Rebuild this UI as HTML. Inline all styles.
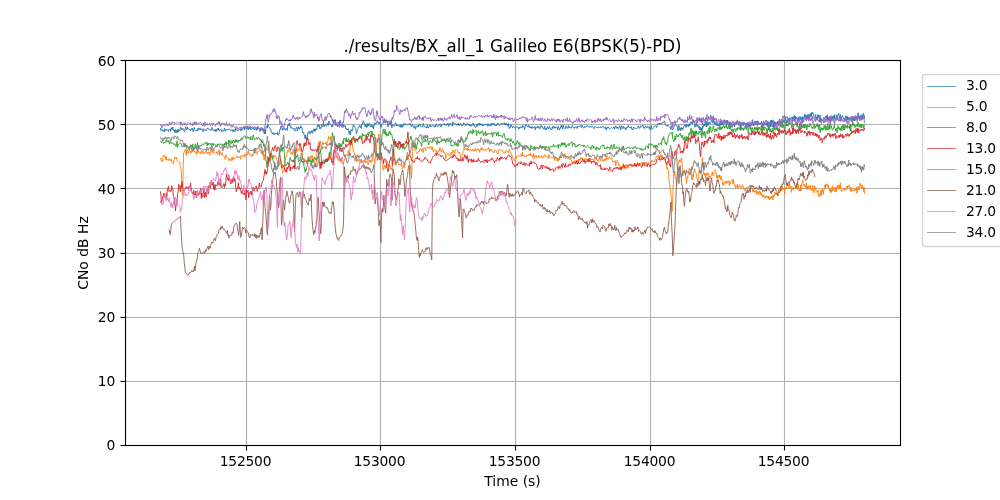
<!DOCTYPE html>
<html lang="en"><head><meta charset="utf-8"><title>./results/BX_all_1 Galileo E6(BPSK(5)-PD)</title>
<style>
html,body{margin:0;padding:0;background:#fff;}
body{width:1000px;height:500px;overflow:hidden;}
svg{display:block;}
text{font-family:"DejaVu Sans","Liberation Sans",sans-serif;fill:#000;}
.n{letter-spacing:-0.25px;}
.t{font-size:13.889px;}
.ti{font-size:16.667px;}
.g{stroke:#b0b0b0;stroke-width:1.111;fill:none;}
.k{stroke:#000;stroke-width:1.111;fill:none;stroke-linecap:butt;}
.d{fill:none;stroke-linejoin:round;stroke-linecap:butt;}
</style></head>
<body>
<svg width="1000" height="500" viewBox="0 0 1000 500">
<rect x="0" y="0" width="1000" height="500" fill="#fff"/>
<g class="g">
<line x1="246.5" y1="60.5" x2="246.5" y2="445.5"/>
<line x1="380.5" y1="60.5" x2="380.5" y2="445.5"/>
<line x1="515.5" y1="60.5" x2="515.5" y2="445.5"/>
<line x1="650.5" y1="60.5" x2="650.5" y2="445.5"/>
<line x1="784.5" y1="60.5" x2="784.5" y2="445.5"/>
<line x1="125.5" y1="445.5" x2="900.5" y2="445.5"/>
<line x1="125.5" y1="381.5" x2="900.5" y2="381.5"/>
<line x1="125.5" y1="317.5" x2="900.5" y2="317.5"/>
<line x1="125.5" y1="253.5" x2="900.5" y2="253.5"/>
<line x1="125.5" y1="188.5" x2="900.5" y2="188.5"/>
<line x1="125.5" y1="124.5" x2="900.5" y2="124.5"/>
<line x1="125.5" y1="60.5" x2="900.5" y2="60.5"/>
</g>
<clipPath id="c"><rect x="125" y="60" width="776" height="386"/></clipPath>
<g class="d" clip-path="url(#c)">
<path transform="translate(160.4,0) scale(0.02692)" stroke="#1f77b4" stroke-width="34.55" d="M0 4757l20 92 20-21 20-16 20 51 20-34 20 0 20 75 20-119 20 18 20 53 20-21 20-31 20 31 20-3 20 50 20-88 20 17 20-9 20 75 20-138 20 62 20 22 20-106 20 87 20 58 20-28 20 103 20-121 20 86 20 24 20-101 20 95 20-117 20 89 20-64 20 24 20-115 20-12 20 90 20-50 20 44 20-32 20 57 20 42 20 4 20-94 20-79 20 85 20 34 20-104 20 72 20 6 20-6 20 17 20 8 20 49 20-83 20 27 20-55 20 68 20 67 20-77 20-76 20 90 20 23 20 13 20-5 20-31 20 38 20-114 20 77 20-17 20-56 20-3 20 74 20-23 20-16 20 40 20 68 20-104 20-10 20 21 20 58 20-31 20 18 20-12 20-69 20-9 20 37 20 6 20-5 20 30 20 3 20 26 20-26 20-99 20 60 20 52 20 6 20 18 20-53 20 0 20 80 20-82 20 46 20-85 20 55 20-66 20 94 20-6 20-25 20-31 20 22 20 78 20-61 20 6 20 18 20 9 20-104 20 91 20 19 20-64 20 21 20 8 20-38 20 12 20 4 20-26 20 28 20 37 20-13 20 5 20-33 20 53 20 30 20-84 20 59 20 24 20-101 20 44 20-54 20 42 20 24 20 3 20-34 20-14 20 21 20-27 20 51 20-70 20 74 20-71 20-42 20-20 20-30 20 137 20-102 20-23 20 7 20 84 20-56 20-60 20 146 20-83 20-25 20 80 20-53 20 73 20-9 20 2 20-41 20 14 20-43 20 83 20-33 20-45 20 18 20 84 20-86 19 53 20-38 19 6 20-41 19 52 19 94 19-20 19-99 19 49 18-66 19 51 18 61 19-81 18 106 18 95 19-174 18 161 18-197 18-82 18 2 18 67 18-166 18 99 18 20 18 15 18 7 18 72 18-3 18 87 18 9 18 73 18-19 18-24 18 63 18-43 18 50 18-2 18-37 18 10 18-27 18 35 18-67 18 114 18-38 18 0 18-97 18-97 18 8 18-120 18-1 18 91 18 69 18-61 18 45 18-15 18-40 18 1 18 68 18-9 18-60 18 4 18 73 18-190 18 23 18-79 18 72 18-105 18 118 18-3 18 88 18-42 18 21 18 16 18-14 18 37 18-29 18 92 18 20 18-61 18-45 18-42 18 11 18 134 18-106 18-51 18 76 18 18 18-65 18 19 18-81 18 50 18-14 18 105 18 121 18-23 18 5 18 99 18 14 18 118 18-142 18 104 18 95 18-67 18-129 18-101 18-5 18-25 18 84 18 16 18-111 18 24 18 22 18-74 18 108 18-34 18-82 18-48 18 87 18-92 18 93 18-84 18-10 18 37 18-131 18-52 18 62 18 4 18-68 18 143 18 15 18-52 18 19 18-140 18 44 18 52 18-22 18-182 18 176 18 5 18-58 18-20 18 18 18 45 18-2 18-106 18 19 18 67 18-160 18 28 18 71 18 19 18-8 18 65 18 53 18-69 18 49 18-149 18 22 18-117 18 49 18-67 18 178 18 44 18-31 18 34 18-19 18-45 18-24 18-51 18 117 18-180 18 28 18 107 18 115 18-105 18 1 18 131 18-113 18 23 18 56 18-41 18 12 18 108 18-20 18 53 18 14 18-38 18-15 18 76 18 121 18-108 18 148 18-60 18-149 18 47 18 16 18-31 18-181 18 25 18-11 18-2 18 69 18 36 18 55 18 132 18-58 18-99 18-23 18-59 18-1 18-44 18-30 18 98 18-19 18 46 18-174 18 8 18-64 18-61 18 46 18 82 18-22 18 129 18-93 18 18 18 94 18-149 18 108 18-71 18 48 18-82 18-26 18 104 18 50 18-57 18-36 18 77 18 27 18-79 18 142 18-133 18 11 18-111 18 33 18 2 18-58 18 40 18-93 18 44 18 11 18 45 18-57 18 86 18 10 18 44 18 63 18-108 18-37 18-35 18 26 18-10 18-73 18-83 18 147 18-61 18 55 18-50 18 27 18-23 18 207 18-115 18 17 18-48 18 29 18-8 18-71 18-43 18 270 18-102 18-5 18 17 18 5 18 38 18-34 18-89 18-8 18 59 18 56 19-38 18 26 19-32 19 23 19 39 19-37 19 69 20-95 19-14 20 115 20-82 20 56 20-106 20-2 20 42 21-65 21 62 20 7 21-6 22-22 21 5 21-23 22 33 22-49 22 0 22 76 22 51 22-81 22-3 22 70 22 63 22-52 22-39 22 131 22-116 22 20 22 8 22-72 22 74 22-71 22-46 22 47 22 43 22 36 22-23 22 22 22-145 22 88 22 43 22 20 22-1 22-23 22 50 22-119 22 113 22-3 22-52 22-53 22 1 22 73 22-36 22 0 22-20 22 7 22 48 22 10 22-65 22 54 22-113 22 54 22 42 22-34 22 4 22-19 22-49 22 100 22 16 22-97 22 20 22-17 22-15 22 24 22-44 22 70 22-43 22 36 22 10 22-77 22 0 22 110 22-33 22-58 22-31 22 76 22-18 22 55 22-166 22 89 22-16 22 13 22-10 22 16 22 42 22-46 22 29 22-51 22 88 22-8 22-51 22-26 22 50 22 37 22-25 22 17 22-102 22 43 22-15 22 42 22 38 22-74 22-20 22 47 22 27 22-47 22 63 22-48 22 64 22 12 22-66 22 10 22-68 22 93 22-14 22 50 22 30 22-4 22-97 22 69 22-99 22-13 22 72 22-84 22 61 22-39 22 57 22-51 22 81 22-68 22 45 22-14 22-34 22 19 22 10 22-35 22-4 22 94 22-85 22-6 22 60 22-50 22 73 22-120 22 71 22-8 22-56 22 56 22-33 22 70 22-22 22 35 22-52 22-55 22 34 22-29 22 80 22-7 22-19 22-46 22 9 22 15 22-29 22 32 22-7 22-51 22 90 22-25 22-53 22 73 22-18 22 65 22-102 22 189 22-40 22 5 22-112 22 56 22 28 22 46 22-69 22 12 22 37 22 36 22-15 22-55 22-2 22 12 22 12 22 71 22-76 22 48 22-50 22-23 22 43 22 10 22-92 22 22 22 37 22 95 22-132 22-34 22-27 22 82 22 4 22-3 22-50 22 92 22-40 22 40 22-45 22 83 22-77 22 43 22-6 22-27 22-21 22 127 22-110 22 20 22 36 22-73 22 51 22-48 22 81 22 11 22-91 22-41 22 65 22-11 22 57 22 36 22-48 22-74 22 143 22-59 22 60 22-87 22-34 22 90 22-36 22-75 22 60 22 49 22 2 22 30 22-120 22 65 22-77 22 8 22 65 22-5 22-56 22 27 22-5 22 82 22-110 22 77 22 59 22-71 22-44 22-72 22 106 22 41 22-148 22 84 22 18 22 35 22-3 22-106 22 75 22 11 22-1 22-90 22 91 22-54 22 14 22 0 22 46 22-68 22-42 22 70 22 36 22 14 22-65 22 18 22-9 22-6 22 62 22-98 22 22 22 11 22-14 22-32 22 36 22 38 22-88 22 67 22 11 22 34 22-67 22 46 22-21 22-41 22 19 22-41 22 32 22 31 22-2 22 9 22-49 22 28 22 20 22-53 22 33 22 26 22 46 22-83 22 10 22 9 22 22 22 18 22-25 22-19 22 17 22 2 22 15 22-34 22 6 22 43 22-63 22 0 22 0 22 41 22 4 22 43 22-81 22 125 22-74 22-2 22-50 22 37 22 42 22 20 22-29 22-35 22 3 22 11 22 22 22-20 22-51 22 91 22-48 22-68 22 47 22 44 22-47 22 61 22-32 22-66 22-14 22 155 22-102 22-53 22 107 22-35 22-54 22 85 22-42 22 22 22 79 22-98 22 22 22-48 22-51 22 60 22 44 22-35 22 10 22-36 22 105 22-13 22 37 22-114 22 26 22 26 22 3 22-7 22 14 22-26 22 7 22-83 22 43 22 46 22-14 22-79 22 29 22 3 22-21 22-40 22 117 22-23 22 39 22-99 22 35 22 23 22 15 22-52 22 47 22 28 22-66 22 110 22 20 22-173 22 116 22-3 22-4 22-36 22-50 22-10 22-2 22 24 22 41 22-87 22-68 22 5 22 38 22-56 22 36 22-28 21 39 22-56 21-13 22 25 21-35 21-47 21 38 20 94 21 33 20 7 20 31 20-39 20-6 20 30 20 15 19 19 19 33 19 54 19-139 19 53 19 116 19-10 18-29 18-49 19-88 18 6 17-12 18-10 18-10 17 23 18 33 17 51 17 119 17-90 17-110 17 165 16 19 17-92 16 74 16 31 16-121 16 44 16-25 16 70 15-84 16-8 15-41 16-39 15-14 15 46 15-48 15 105 15-121 15-8 15 64 15 19 15-52 15 69 15-106 15-3 15 75 15-70 15-71 15-5 15-3 15 69 15 7 15 2 15-55 15-106 15 68 15-4 15 23 15 198 15-83 15 22 15-101 15-20 15 159 15-38 15-26 15 75 15 16 15 23 15-71 15 145 15-101 15 97 15 34 15-111 15 98 15-36 15-125 15 49 15-64 15-58 15-19 15 88 15-57 15-64 15-51 15 211 15-212 15 25 15 125 15 24 15-125 15 53 15-38 15-49 15 78 15-37 15-23 15-30 15-59 15 1 15 93 15 29 15-174 15 111 15 12 15 98 15-126 15 107 15-16 15 63 15-49 15-34 15 109 15-35 15-50 15 85 15 4 15-23 15 44 15-144 15 101 15-126 15-18 15 136 15-92 15 28 15 37 15-62 15-13 15-73 15-27 15 153 15-40 15-57 15-37 15 256 15-248 15 107 15-109 15 141 15 36 15-53 15-71 15 78 15 164 15-209 15 157 15-43 15 13 15 46 15-40 15-18 15-26 15-38 15 19 15 79 15-89 15-80 15 2 15 56 15-33 15-19 15-31 15-22 15 141 15-2 15-118 15-4 15 4 15 268 15-144 15 210 15-271 15 48 15 2 15 15 15-97 15 111 15-91 15 31 15 12 15-9 15 22 15 81 15-127 15-1 15 57 15-62 15-14 15 148 15-80 15 19 15 30 15-86 15 78 15-30 15-49 15-9 15 0 15-134 15 186 15-53 15 98 15-118 15-48 15-7 15 125 15-26 15-108 15 94 15-70 15 134 15-161 15 26 15 40 15 89 15-43 15-20 15-6 15 27 15 9 15-26 15-81 15 235 15-43 15 14 15-58 15 74 15-156 15 32 15 24 15 29 15-58 15-1 15-10 15 72 15-94 15 145 15-187 15 297 15-170 15 42 15-137 15 156 15-227 15 231 15-245 15 108 15 28 15-30 15-124 15 86 15 212 15-238 15 63 15 124 15-167 15 133 15-99 15-6 15 57 15-92 15 112 15-87 15 48 15-28 15-147 15 121 15 79 15-71 15 42 15-59 15-13 15 2 15-4 15 39 15-72 15-45 15 111 15-42 15-12 15-86 15 9 15 120 15-60 15 102 15-42 15-73 15-48 15-28 15 82 15 66 15-126 15 33 15-46 15 12 15-44 15-1 15-19 15 84 15-98 15 106 15-36 15-119 15 107 15 109 15-179 15 38 15-6 15 68 15-6 15 43 15 36 15-149 15 134 15 11 15-9 15-165 15 60 15 78 15-30 15-45 15-33 15 163 15-180 15 70 15 24 15-28 15-88 15-74 15 103 15-36 15 89 15-95 15-29 15 153 15-72 15-95 15 169 15-101 15-72 15 151 15-94 15-37 15-63 15 144 15-170 15 52 15-54 15 10 15 64 15-2 15 160 15-19 15-16 15-38 15-81 15 194 15-93 15 77 15 27 15-199 15 105 15-96 15 41 15 155 15 74 15-259 15 180 15 60 15-116 15 41 15 48 15-30 15-42 15-1 15-55 15 69 15-8 15-73 15 13 15-62 15 85 15-13 15 75 15-181 15 201 15-108 15 77 15-82 15-26 15 165 15-96 15 108 15-215 15 128 15 80 15-58 15-136 15-16 15 10 15 135 15-49 15-128 15 157 15-33 15 37 15 8 15-168 15 34 15 7 15-15 15-36 15-39 15 99 15 26 15 53 15-139 15 115 15 73 15-79 15-14 15-50 15-6 15 124 15 11 15-27 15 66 15-70 15-33 15 34 15 112 15-31 15-172 15 156 15-122 15 6 15 63 15 45 15-85 15 73 15-50 15-22 15 55 15-35 15 3 15 62 15-74 15 29 15 80 15-104 15-6 15 21 15 98 15-197 15 4 15 1 15 20 15 107 15-97 15 71 15-216 15 185 15-82 15 152 15-25 15-44 15-85 15 10 15 18 15 147 15-205 15 141 15-174 15-17 15 71 15-11 12 154"/>
<path transform="translate(160.4,0) scale(0.02692)" stroke="#ff7f0e" stroke-width="33.43" d="M0 5924l20-55 20 136 20-34 20 35 20-232 20 24 20-30 20 67 20-1 20 110 20-141 20 152 20-15 20-6 20 28 20-71 20 60 20 0 20 15 20-63 20 107 20-8 20-15 20 100 20-95 20-89 20-70 20 4 20 67 20-60 20 121 20 23 20 1 20 19 20 31 20-17 20 158 20 49 20 181 20 391 20 464 20-757 20-813 20-31 20-59 20-57 20 31 20 196 20-205 20 141 20-6 20-92 20 68 20-140 20 40 20 75 20 44 20-90 20-39 20 58 20-81 20 68 20-8 20 56 20-28 20 33 20 83 20-204 20 129 20-10 20-58 20 57 20-6 20-11 20 75 20-129 20 55 20 46 20-75 20 27 20 62 20-54 20 7 20-17 20-2 20-16 20 92 20-56 20 45 20-67 20 88 20 41 20-82 20-142 20 68 20 51 20-113 20 128 20 1 20-49 20 28 20 19 20 21 20-18 20-52 20 114 20-29 20-94 20-55 20 210 20-106 20-50 20 101 20 31 20-74 20 99 20 22 20 6 20 52 20 61 20-157 20-14 20 81 20 32 20-22 20 43 20 87 20-15 20-66 20 37 20 50 20-11 20-119 20 112 20-132 20 25 20 66 20-37 20-26 20-14 20 1 20-60 20 20 20 64 20-25 20 25 20-28 20-39 20 106 20-127 20-3 20 0 20 40 20-40 20 4 20-39 20 109 20-106 20-43 20 70 20 8 20-75 20-86 20 102 20 2 20 35 20-30 20 13 20 78 20-57 20-24 20 63 20-67 20-57 20-1 20 32 20-116 20 35 20 48 19 71 20-96 19-38 20 14 19-11 19-75 19 52 19-19 19 155 18-65 19-38 18 157 19-116 18 255 18 38 19-224 18 55 18-326 18 99 18 30 18-32 18-47 18-144 18-125 18 147 18 302 18 69 18 195 18-143 18 42 18-81 18-16 18 147 18-129 18 69 18-7 18-65 18 27 18 14 18 90 18 45 18 135 18-3 18-47 18 125 18-70 18-127 18-16 18 142 18 56 18 63 18 184 18 54 18-69 18-20 18-174 18-132 18-80 18-102 18-67 18 20 18-167 18-55 18 52 18-57 18-112 18 78 18 115 18 21 18 29 18-65 18-8 18 92 18-196 18 7 18 136 18-25 18 106 18-22 18-30 18-174 18 95 18-72 18-52 18 63 18-53 18-7 18-89 18 185 18-60 18 2 18 84 18 15 18 186 18 100 18-54 18-7 18 139 18-85 18 9 18 43 18 43 18-97 18 14 18 90 18-56 18-159 18 108 18 49 18-130 18-55 18-8 18 100 18-100 18 177 18-3 18-16 18 88 18 170 18-152 18 53 18-29 18-284 18-176 18-80 18-108 18-156 18 90 18 104 18 56 18 99 18-119 18 11 18-102 18-155 18 122 18-64 18 29 18-26 18 27 18 8 18-80 18 128 18-47 18-102 18-25 18-150 18 70 18-36 18-22 18 130 18-148 18 330 18 535 18 12 18-58 18-164 18-81 18-78 18 113 18-118 18 188 18 121 18-35 18-56 18 98 18 90 18-14 18-62 18-29 18 140 18-113 18 137 18-148 18 143 18 70 18-44 18-1 18-34 18-68 18-44 18 17 18-133 18-6 18-33 18 23 18 16 18-199 18 163 18 40 18-175 18-186 18-51 18 5 18-180 18-36 18 313 18 74 18 98 18 8 18 88 18-1 18 145 18-122 18 162 18 91 18-113 18 12 18 63 18-19 18-46 18 54 18 17 18-76 18 18 18 95 18-49 18 43 18-45 18-23 18-9 18 86 18-34 18 67 18-89 18 31 18 32 18-37 18 124 18-45 18-58 18-79 18 101 18-59 18-54 18 101 18-69 18 10 18-201 18 63 18 27 18 171 18 60 18-174 18-372 18 5 18-266 18 16 18-114 18-25 18-185 18 92 18 204 18 169 18 263 18 204 18-85 18 257 18 24 18 225 18-44 18-153 18 46 18 95 18-23 18-139 18 128 18-266 18 137 18 34 18-37 18 59 18 34 18-62 18 83 18 72 18-36 18 51 18-158 18-118 18-153 18-323 18 157 18 176 18 254 18-16 18-65 18-1 19-10 18-27 19-2 19 110 19-9 19-30 19 44 20 21 19-96 20 50 20 166 20-56 20-5 20-107 20 110 21-186 21-55 20-45 21-183 22-97 21 158 21 94 22-8 22 211 22 23 22 236 22 273 22-633 22-377 22-413 22 98 22 144 22 127 22 28 22 27 22 57 22-11 22-19 22-49 22 25 22-86 22-43 22 34 22 79 22-90 22-13 22 149 22-170 22-19 22 42 22 74 22-123 22-13 22 15 22 0 22-8 22 46 22-59 22-19 22 45 22 86 22-127 22 119 22 84 22-90 22-9 22 49 22 9 22-30 22 117 22-61 22 24 22-84 22 35 22-134 22 86 22 59 22 43 22-135 22 25 22 88 22 42 22-22 22 69 22 162 22-102 22-48 22-20 22 6 22-12 22 99 22-31 22-40 22-82 22 86 22-59 22-111 22 56 22-31 22 94 22-104 22-43 22 27 22 14 22 15 22 43 22 45 22-35 22 83 22 145 22-52 22-48 22-14 22-128 22-27 22-109 22 56 22-22 22-25 22 63 22-69 22 87 22-69 22 58 22 15 22-72 22 50 22 33 22-19 22-7 22-48 22 86 22-12 22-57 22-52 22 115 22-46 22-41 22 47 22-45 22 37 22 91 22-118 22 45 22-113 22 108 22-65 22 35 22 33 22 10 22-36 22-20 22 51 22-25 22-5 22 10 22-94 22 36 22 147 22-112 22 38 22-41 22 77 22 9 22-4 22 57 22-46 22-70 22 27 22-9 22 69 22 24 22 44 22-93 22-90 22 25 22 20 22-24 22 32 22 21 22-31 22 98 22 2 22-17 22 36 22-101 22 8 22-1 22 28 22-13 22 45 22-120 22 67 22 58 22-8 22 122 22-17 22 67 22 53 22 30 22 48 22 27 22-181 22 91 22-103 22-8 22 3 22 9 22 1 22-12 22-48 22 4 22 64 22-159 22 142 22-32 22 12 22-24 22 79 22-35 22 38 22-67 22 6 22-47 22 51 22-48 22 53 22-109 22 122 22-36 22 89 22-57 22-97 22 215 22-150 22 44 22 33 22-64 22 97 22-12 22-24 22-67 22 106 22-58 22 11 22-2 22-50 22 110 22-35 22 6 22-73 22-39 22 74 22-15 22 14 22 28 22 13 22 34 22-153 22 111 22 1 22-13 22 31 22 10 22-20 22-13 22 46 22-65 22 144 22-86 22-30 22 53 22 74 22-62 22 61 22-84 22-65 22-47 22 91 22-43 22-20 22-70 22-16 22 134 22-122 22-26 22 194 22-106 22 60 22 1 22 39 22-58 22 31 22 46 22 3 22-61 22 153 22-11 22 83 22-67 22-23 22 77 22-120 22 53 22 17 22 19 22-83 22 28 22-85 22 81 22-74 22 19 22-84 22 70 22-58 22 57 22 24 22-42 22 0 22 16 22 6 22-36 22 75 22 73 22-83 22-44 22 95 22-57 22-52 22 70 22-28 22 20 22-40 22-5 22 85 22-18 22-115 22-12 22 78 22-35 22 70 22 37 22-55 22-96 22 64 22 68 22-96 22 16 22 34 22 54 22-2 22-69 22 57 22-86 22 82 22-25 22-146 22 94 22 34 22-52 22-46 22 21 22 57 22-22 22-27 22 102 22 68 22-37 22 34 22-9 22-46 22 203 22-162 22-44 22 4 22 71 22 117 22-44 22 30 22 60 22 88 22-87 22-5 22 63 22-185 22 208 22-125 22 95 22-46 22-34 22 83 22-98 22 89 22-121 22 4 22-45 22 75 22-40 22 69 22-60 22 8 22-7 22 8 22 44 22-85 22 25 22 45 22-81 22-58 22 93 22 33 22-93 22 41 22-33 22 33 22-75 22 4 22 142 22-33 22-44 22-74 22 65 22-60 22 34 22-5 22 96 22-105 22 17 22 4 22 4 22 17 22-66 22-72 22 56 22 14 22-29 22 18 22-44 22-79 22-39 22-51 22 2 22 1 22 71 22-110 22 98 22-64 22-57 21 164 22-147 21 102 22 60 21-20 21 20 21 37 20-28 21 159 20 57 20 144 20-51 20 45 20 161 20 278 19 121 19 191 19 70 19 212 19 388 19 151 19-512 18-377 18-498 19 48 18-162 17 226 18 63 18 30 17 198 18-235 17-414 17-107 17-82 17-38 17-53 16 83 17 18 16-103 16-14 16-64 16 154 16 255 16 271 15-141 16-27 15 29 16-92 15 39 15 100 15 175 15-8 15 209 15-94 15-169 15 46 15-137 15-28 15-68 15-136 15 99 15-43 15 32 15 110 15 25 15 229 15-87 15 79 15-209 15 101 15-217 15 11 15-100 15 64 15 47 15 42 15 42 15 23 15 169 15 4 15 98 15-79 15-134 15-107 15-94 15 33 15 6 15 60 15 41 15-239 15-48 15-330 15 137 15 38 15 392 15 50 15-63 15 96 15-62 15 79 15 96 15-196 15 76 15-35 15 37 15-97 15 20 15 94 15 55 15-47 15 103 15-7 15-76 15-22 15-58 15 16 15-107 15 143 15-2 15-19 15-35 15-105 15-20 15-40 15 16 15 72 15 173 15 69 15-125 15 101 15-47 15 36 15-97 15 99 15-103 15 0 15 168 15-122 15 74 15 54 15-24 15 149 15 88 15-79 15 58 15-94 15 6 15 29 15-81 15 36 15 43 15-69 15 83 15-99 15 38 15 12 15-10 15-53 15 190 15-128 15 74 15-77 15 9 15-30 15-26 15-24 15-24 15 162 15-164 15 131 15 35 15 41 15-13 15 118 15-76 15 43 15 10 15 0 15-117 15 171 15-55 15-42 15 23 15-69 15 55 15-2 15 6 15 64 15-44 15 16 15-101 15 7 15 26 15 124 15-21 15 90 15 3 15-57 15 45 15-77 15-43 15 20 15 39 15-62 15-27 15 17 15 20 15 16 15-98 15-3 15 56 15 10 15 16 15 35 15-17 15 7 15 149 15-9 15-95 15 63 15 26 15 22 15-59 15 62 15-75 15 49 15 92 15-120 15 80 15-37 15 109 15-28 15-126 15 59 15 48 15-76 15 125 15-72 15 89 15 23 15 6 15-57 15 88 15-94 15 87 15-19 15 63 15-55 15 11 15 49 15-97 15 2 15 7 15 52 15 44 15-83 15 103 15-84 15 119 15-106 15-3 15 54 15-81 15 1 15 52 15-79 15 157 15-156 15 48 15-41 15 5 15-145 15 102 15-25 15 25 15-68 15 4 15 105 15-40 15 42 15-248 15 116 15-12 15-61 15-104 15 121 15-179 15 44 15 126 15-178 15 98 15 44 15-66 15 26 15 2 15 190 15-209 15-24 15 69 15-32 15-57 15-52 15-5 15-31 15-16 15 53 15 107 15-227 15 81 15 107 15-14 15 61 15 137 15-230 15 88 15 14 15 26 15-68 15-10 15-3 15 52 15-30 15-10 15-25 15 4 15-63 15-114 15 263 15 1 15-196 15 189 15 52 15-54 15 48 15 6 15-224 15 233 15-125 15-183 15-10 15-88 15 129 15 61 15 6 15 37 15-73 15 84 15 41 15 48 15-243 15 267 15-141 15 119 15-100 15-27 15 102 15-52 15-17 15 114 15-165 15 156 15 35 15-39 15 61 15-41 15-172 15 54 15 9 15 231 15-152 15-112 15 126 15-52 15 86 15 42 15 34 15-45 15-4 15-39 15 239 15 27 15-59 15-60 15 71 15-107 15-104 15 195 15-204 15 60 15-118 15 67 15 164 15-149 15-36 15-31 15-144 15 121 15-158 15 83 15-17 15-73 15 109 15 20 15-36 15-41 15 158 15 35 15-48 15 125 15-139 15 147 15-114 15 73 15-209 15 190 15-28 15-35 15 28 15-102 15-16 15 195 15-110 15-60 15 166 15-201 15 78 15-63 15-79 15 8 15 134 15-51 15-78 15 144 15-234 15 230 15 43 15 53 15-29 15-12 15 10 15-50 15 15 15-29 15 43 15-44 15 15 15 7 15 27 15-112 15-41 15 89 15-103 15 59 15-47 15-3 15-43 15 28 15 133 15 69 15-156 15 180 15-56 15 12 15 5 15-49 15 10 15 39 15-31 15 25 15-62 15-12 15 69 15-34 15-85 15 233 15-165 15 39 15-153 15 70 15 79 15-10 15-121 15-127 15 80 15 8 15 72 15 48 15-140 15 149 15-74 15 39 15 135 15-152 12 242"/>
<path transform="translate(160.4,0) scale(0.02692)" stroke="#2ca02c" stroke-width="34.18" d="M0 5245l20 18 20 43 20-48 20 21 20 9 20 54 20-45 20-9 20 23 20-58 20-49 20 72 20-16 20-50 20 70 20-50 20 122 20-30 20-62 20 37 20 37 20-35 20 32 20 0 20 48 20-27 20-9 20 36 20 72 20-99 20-124 20 241 20-87 20-36 20-12 20-26 20 19 20 3 20 10 20 113 20-27 20 21 20-44 20 38 20 26 20-135 20 99 20 23 20-70 20 97 20-34 20 10 20 61 20 32 20-124 20 29 20 0 20-68 20 79 20-123 20 161 20 53 20-123 20-29 20-61 20 103 20-6 20-9 20-124 20 201 20-109 20 12 20 38 20-33 20-30 20 40 20-47 20-37 20-10 20 52 20-15 20-21 20-45 20 27 20-53 20 38 20 103 20-120 20 84 20-53 20 30 20-41 20 46 20 0 20 89 20-140 20 68 20 24 20-76 20 37 20 15 20-11 20 20 20 54 20 9 20-104 20-7 20 25 20 11 20-32 20-8 20 35 20-28 20 6 20 63 20-71 20 81 20 53 20-147 20 45 20-119 20 146 20-111 20 50 20-29 20 60 20-172 20 123 20-115 20 96 20 49 20-25 20-106 20 86 20-37 20-68 20 10 20 95 20-39 20-93 20 95 20-77 20 31 20 64 20-79 20 38 20-39 20 31 20-82 20 21 20-60 20 82 20-57 20-72 20-22 20-3 20 11 20 79 20-52 20-7 20 22 20-18 20 58 20-56 20 54 20 26 20 29 20-125 20 109 20-9 20 24 20-174 20 6 20 128 20 50 20-49 20-4 20-6 20-41 19 71 20-43 19-25 20 4 19 20 19 68 19-2 19-28 19 127 18-103 19 104 18-46 19 183 18-95 18 99 19-48 18 261 18 286 18 50 18 232 18-75 18-330 18 87 18 95 18 4 18-136 18-50 18-59 18-63 18 91 18 50 18 99 18 37 18 58 18 6 18 184 18-57 18 65 18 92 18-6 18-34 18-26 18-54 18-103 18-247 18-40 18-261 18-125 18-18 18-36 18 227 18 24 18-144 18 57 18-63 18 209 18 247 18 245 18 9 18-76 18 16 18-14 18-78 18 68 18 20 18-76 18-61 18-132 18 79 18-3 18 58 18 28 18-54 18 66 18-79 18 99 18-170 18-12 18 29 18 11 18-102 18 39 18-101 18 42 18 235 18-8 18-16 18-65 18-84 18 27 18 29 18 123 18-25 18 55 18-69 18 102 18 114 18 114 18 97 18-113 18 51 18-116 18-27 18-83 18-176 18 45 18-28 18 39 18-51 18-7 18 60 18 18 18-62 18-54 18 147 18-99 18 11 18-103 18-28 18 93 18 23 18-67 18 44 18-17 18-60 18-47 18-138 18 61 18-28 18-28 18-81 18 191 18 246 18 35 18 13 18-103 18-30 18 25 18 98 18-54 18-96 18 26 18-4 18 20 18 19 18-42 18-7 18 43 18-111 18-94 18-38 18-157 18-155 18 10 18-486 18 73 18 63 18-1 18 174 18 5 18 71 18 50 18-29 18 73 18-25 18 99 18-117 18-15 18-43 18 150 18-71 18 33 18-87 18 124 18-70 18-50 18-114 18 119 18-219 18 30 18-14 18 61 18 63 18-149 18 143 18-63 18 75 18-69 18-47 18 56 18 60 18-29 18-40 18 92 18-126 18 11 18 13 18-56 18 30 18 55 18 40 18 47 18-75 18-86 18 41 18-27 18 97 18-3 18-144 18 54 18-118 18 61 18-18 18-45 18 34 18 96 18-218 18 82 18-45 18 65 18-7 18-8 18-41 18 21 18 112 18-143 18 9 18-5 18-75 18 150 18-145 18 14 18-51 18 14 18-28 18 114 18-123 18 154 18-48 18 41 18-37 18 94 18 18 18 173 18 263 18 77 18 152 18 204 18-45 18-214 18 45 18 110 18 8 18-170 18-247 18-167 18-76 18-233 18-21 18-111 18-39 18 182 18-51 18-134 18 207 18-92 18 154 18-92 18 21 18 60 18-11 18-126 18 50 18-96 18 120 18 22 18-44 18 30 18 125 18 85 18 52 18 103 18-98 18 76 18 110 18-110 18 107 18-9 19-10 18 90 19-72 19-75 19 172 19 24 19-84 20-4 19-102 20 108 20-141 20 191 20-47 20-55 20 117 21-74 21 11 20-58 21 12 22-161 21 77 21-37 22-49 22-62 22-45 22-110 22 105 22 75 22 117 22 112 22-51 22 64 22-164 22 168 22 69 22-176 22-8 22-118 22-71 22 52 22 54 22 34 22-4 22 131 22-177 22 31 22-70 22 19 22 6 22-97 22 98 22-1 22-5 22-103 22 102 22 139 22-124 22-2 22-38 22 32 22 37 22 11 22-47 22-32 22-53 22-4 22 93 22 6 22-22 22 127 22-180 22 117 22-56 22 66 22-60 22-17 22 39 22-74 22 22 22-55 22 70 22-32 22-17 22 42 22 66 22-125 22 28 22-26 22 81 22-66 22 24 22 56 22-25 22 180 22-39 22 29 22 32 22-35 22-29 22-69 22 73 22-21 22 48 22-96 22 127 22-25 22-99 22-116 22 70 22-43 22-119 22 90 22-47 22 54 22 52 22-45 22 46 22-14 22-142 22 69 22-53 22-139 22 14 22-112 22 27 22 37 22-107 22 54 22 58 22 18 22-176 22 132 22-59 22 13 22-15 22-31 22 200 22-100 22-15 22-75 22 100 22 11 22-66 22 63 22-59 22-36 22 8 22 118 22 61 22-116 22 39 22-88 22 168 22-102 22 68 22-39 22-30 22 27 22 6 22-31 22 37 22 9 22-77 22 176 22-139 22-48 22 60 22-23 22-18 22-9 22 128 22-79 22-77 22 169 22-46 22 31 22 14 22-37 22 37 22 34 22 20 22-123 22-36 22 25 22 165 22 50 22-26 22-22 22 68 22-81 22 27 22 37 22 63 22-22 22-93 22 105 22 1 22 70 22-81 22 83 22 15 22 66 22-29 22-3 22-104 22-61 22 101 22 50 22-59 22-4 22 88 22 20 22-5 22 23 22-17 22 71 22 3 22-40 22-38 22 22 22 43 22-24 22 59 22-22 22 65 22-6 22 70 22-209 22 42 22-5 22 4 22 15 22 10 22 28 22-48 22 27 22 11 22 7 22 23 22-36 22 64 22-13 22-57 22-59 22 70 22 17 22-35 22-17 22-22 22 69 22-55 22 82 22 64 22-162 22 43 22 42 22-13 22-50 22 39 22 97 22-129 22-26 22 7 22 39 22-40 22 20 22-97 22 48 22 54 22-6 22-10 22-19 22 17 22-59 22 131 22-150 22 30 22 25 22 30 22-124 22 81 22-106 22 93 22-77 22 84 22-95 22 171 22-55 22 37 22-82 22-24 22-18 22 88 22-70 22-4 22-40 22 1 22-44 22 175 22-75 22-54 22 51 22-16 22 127 22-52 22 43 22-75 22 41 22-66 22 6 22 0 22 32 22-21 22 16 22 6 22 7 22-16 22 62 22-63 22 53 22 23 22 23 22-41 22-38 22 20 22 9 22 34 22 30 22-24 22 80 22-107 22-54 22 4 22 118 22-84 22 39 22 26 22 56 22 16 22-123 22 93 22-36 22 14 22 46 22-56 22 4 22-77 22-11 22 17 22-66 22 48 22-37 22 141 22-31 22 23 22-46 22 52 22-83 22 45 22-5 22-11 22 74 22-18 22-142 22-7 22 173 22-23 22-58 22-115 22 157 22-10 22 27 22-69 22-14 22 26 22 46 22-41 22-9 22 79 22 30 22-57 22 44 22-126 22 86 22-104 22 157 22-38 22-5 22-31 22 7 22-9 22-41 22 19 22-27 22 47 22 31 22-17 22-24 22-33 22 54 22 27 22-71 22 12 22 17 22-58 22 54 22 33 22-44 22 33 22-15 22 12 22 21 22-36 22 31 22 56 22-69 22 54 22 8 22 4 22-60 22 9 22 22 22-114 22-23 22-1 22 77 22 26 22-181 22 27 22-19 22 60 22-64 22 50 22-16 22 26 22 91 22-32 22-69 22 121 22-126 22 52 22 52 22-60 22-92 22 20 22-10 22-17 22-32 21 89 22-183 21-60 22 54 21-121 21 109 21 66 20 88 21-73 20 124 20-85 20-38 20-152 20-53 20-69 19-12 19-52 19 23 19 18 19 3 19-74 19 259 18 15 18 76 19-2 18-88 17-110 18 140 18-130 17-76 18 82 17 12 17-37 17 42 17-75 17-22 16 10 17-51 16 97 16-26 16 80 16 32 16-84 16-22 15 175 16-5 15-68 16 55 15-100 15 112 15 11 15 32 15-181 15 186 15-130 15-23 15 160 15-131 15-162 15 50 15-18 15-73 15 47 15-192 15 272 15-47 15-163 15 95 15-16 15 36 15-67 15 167 15-140 15-13 15-30 15 199 15-111 15-89 15 123 15-3 15-33 15-12 15 62 15-117 15 47 15-26 15-9 15-19 15 123 15-44 15 171 15-266 15 127 15-81 15 85 15 44 15-79 15-80 15 179 15 87 15-157 15-73 15 1 15-45 15-11 15 117 15-92 15-47 15-82 15 197 15-238 15 68 15-74 15 186 15 34 15-35 15-17 15-61 15-140 15 30 15 97 15 43 15 52 15-4 15-104 15 67 15-43 15 61 15-91 15-32 15 16 15-22 15 64 15-8 15-84 15 113 15-118 15 25 15 84 15-73 15-33 15 59 15-71 15-8 15-86 15 134 15-44 15 73 15-58 15-18 15-16 15-50 15 134 15-34 15 65 15 1 15-55 15-92 15 126 15 16 15-90 15 3 15 119 15-8 15 72 15-66 15 31 15-59 15 146 15-73 15-58 15-26 15-4 15 42 15 74 15-56 15-63 15 62 15 8 15-109 15-4 15 53 15-6 15 1 15-20 15 75 15-61 15 1 15-4 15-12 15 35 15 18 15-37 15 81 15-106 15 54 15-71 15-48 15 16 15-54 15 177 15-38 15-123 15 57 15 3 15 249 15-133 15-90 15 8 15-113 15 109 15 64 15-38 15 144 15-181 15 5 15 58 15 149 15-34 15-70 15-65 15-67 15 80 15-53 15 105 15-70 15 34 15-107 15 197 15-146 15 83 15-113 15 63 15-50 15 74 15-11 15 43 15-168 15-19 15 226 15-147 15 105 15-122 15 64 15 63 15-93 15-36 15 16 15 39 15 18 15-10 15 144 15 43 15-164 15-42 15-59 15-4 15 148 15-109 15 169 15-93 15 49 15 8 15 56 15-149 15-8 15 158 15 43 15-153 15-123 15 119 15-53 15 81 15-7 15-41 15-47 15 80 15-87 15 129 15-92 15 116 15-87 15 69 15-114 15-123 15 59 15-205 15 229 15 13 15-70 15-103 15 206 15-124 15 28 15 57 15 32 15 29 15-245 15 32 15-19 15 124 15-68 15 51 15-39 15 43 15-54 15-44 15 38 15-1 15-19 15-39 15 35 15 97 15 93 15-155 15-21 15 57 15 100 15-124 15 25 15-15 15-60 15 11 15-39 15 65 15 82 15-30 15-113 15 176 15-17 15-9 15 135 15-244 15 124 15 40 15-7 15 45 15-217 15 178 15-84 15 58 15 17 15-124 15 2 15 132 15-153 15 138 15-75 15-29 15 47 15 138 15-120 15-80 15 84 15-29 15-11 15 19 15 23 15-132 15 98 15-18 15 30 15 27 15 52 15-52 15 61 15-63 15-21 15-93 15 180 15-26 15-62 15 45 15-80 15 24 15-76 15-21 15 141 15-78 15 4 15 165 15-78 15-120 15 313 15-141 15 3 15-44 15 84 15-1 15-79 15 89 15-32 15-68 15-91 15 123 15 26 15 40 15-183 15 126 15-48 15 110 15-155 15-107 15 127 15 115 15-136 15-33 15 147 15-249 15 41 15 142 15-47 15 85 15 37 15 26 15-26 15-57 15 1 15-126 15 134 15 2 15 21 15 94 15-94 15-21 15 177 15-85 15-189 15 21 15 92 15-44 15 89 15-74 15 14 15 83 15-117 15-51 15 171 15-187 15-34 15 137 15 52 15-185 15 184 15-2 15-173 15 48 15 51 15-17 15-57 15 101 15-114 15 69 15-3 15 6 15 29 15-94 15 141 15-191 15 264 15-218 15 1 15 5 15-18 15-109 15 137 15-69 15 50 15-48 15 125 15-70 15 56 15-13 15-30 15-59 15-12 15 97 15-163 15 85 15 65 15 31 15 11 15-125 15 55 15 69 15-124 15 153 15-147 15 14 15-1 15 34 15 92 15-109 12 44"/>
<path transform="translate(160.4,0) scale(0.02692)" stroke="#d62728" stroke-width="34.18" d="M0 7109l20 139 20 296 20-70 20-162 20 28 20-171 20 40 20 50 20 57 20 27 20-158 20 113 20-283 20-18 20-71 20 190 20-61 20 20 20 40 20-4 20-211 20 128 20-32 20 276 20 54 20 257 20-17 20 272 20-189 20-76 20-133 20-225 20-102 20-271 20 85 20 60 20 140 20-232 20 70 20-223 20 132 20 146 20 47 20 29 20-67 20 2 20-72 20-34 20 58 20-7 20-25 20 84 20-114 20-8 20 67 20-179 20 171 20 128 20 54 20 17 20 54 20-152 20 177 20-55 20 46 20-147 20 238 20-97 20-20 20-38 20-11 20 68 20-111 20 67 20-202 20 383 20-200 20 162 20-26 20-285 20 3 20 323 20-175 20-35 20 177 20-219 20-62 20-6 20 185 20-323 20 56 20 2 20 40 20-167 20-46 20 107 20-64 20-55 20 280 20-183 20 208 20-79 20-134 20 39 20 4 20-30 20-129 20 31 20 109 20-78 20 98 20-249 20 324 20-26 20 9 20-18 20-82 20-40 20 154 20-126 20 44 20-270 20-144 20 101 20 109 20-54 20 91 20-132 20 104 20 74 20 66 20-67 20-111 20 127 20-135 20-87 20 185 20-126 20 111 20 225 20 163 20-129 20 27 20-97 20-133 20 246 20-85 20 28 20 34 20 169 20 8 20-98 20 71 20 60 20-38 20 62 20-129 20-48 20 364 20-403 20 118 20-53 20-22 20 278 20-108 20-86 20 41 20-106 20 62 20 101 20-235 20-60 20 38 20 108 20-56 20-91 20-15 20-39 20 115 19 95 20-70 19-106 20-20 19-122 19 168 19-14 19-5 19-21 18-124 19-45 18-43 19-24 18-146 18-65 19-184 18 29 18 159 18-100 18 70 18-116 18-138 18-29 18-307 18-4 18 104 18-207 18-61 18-67 18-19 18-47 18-81 18 86 18 51 18-53 18-120 18-27 18-16 18 136 18 89 18 6 18-138 18-39 18 18 18 55 18 92 18 157 18 123 18 95 18 173 18 82 18-123 18-1 18 20 18 58 18 26 18 80 18 60 18 17 18-122 18 145 18-206 18 74 18-37 18-86 18-93 18 55 18 234 18-142 18 5 18 53 18-17 18 15 18-87 18 42 18-75 18 139 18-366 18-288 18-94 18-278 18-23 18-7 18 141 18 14 18-14 18 48 18-85 18-2 18 119 18 36 18 107 18 59 18-21 18-82 18-128 18-97 18 114 18-145 18 55 18 65 18-207 18-93 18 92 18-43 18 208 18-48 18 43 18-72 18 273 18-23 18 41 18-26 18 38 18-38 18 44 18 0 18 13 18-28 18-39 18 13 18 1 18 79 18-13 18-113 18-95 18 259 18 301 18 129 18 166 18-243 18 198 18-217 18 115 18-106 18-3 18 34 18 3 18 36 18-67 18-90 18 28 18 59 18-144 18 128 18-105 18 9 18-79 18-165 18 97 18 137 18 12 18-19 18 146 18-66 18 67 18 91 18-331 18-216 18 76 18-301 18 46 18 69 18-49 18 29 18 72 18-117 18 90 18-59 18 95 18 92 18-111 18 36 18 70 18 32 18-137 18-34 18-2 18 59 18 1 18-56 18-36 18-92 18 63 18 48 18-65 18-26 18 28 18-17 18-150 18 45 18 105 18-162 18 139 18-209 18-28 18-8 18 26 18-73 18 25 18 123 18-33 18 82 18-25 18-79 18 40 18-3 18-39 18-19 18 17 18-31 18 9 18-19 18 30 18 10 18 5 18 136 18 44 18-45 18-10 18-72 18 72 18-120 18-47 18 109 18-123 18-53 18 85 18 69 18-14 18-29 18 6 18 145 18-311 18 98 18-40 18-59 18 51 18 54 18-15 18 164 18 233 18 179 18 47 18 16 18 61 18 14 18-101 18 11 18 118 18 53 18-7 18 59 18-135 18 16 18-152 18 115 18 126 18 2 18 39 18 127 18-173 18 11 18-22 18 18 18 130 18 41 18 137 18 44 18 123 18-37 18-207 18-120 18-70 18-6 18-123 18 56 18 10 18 257 18-153 18-286 18-228 18-309 18 88 18 74 18-89 18 84 18 130 19-98 18-48 19 66 19-126 19-11 19 116 19-84 20 191 19-104 20 75 20-71 20 88 20-127 20 74 20-45 21-9 21-82 20 51 21-135 22-37 21-236 21 326 22 324 22 92 22 181 22 5 22 123 22-11 22 50 22-9 22 47 22-12 22-111 22-30 22-11 22 38 22-91 22 91 22 6 22-43 22 70 22 8 22 23 22 25 22 10 22-22 22-59 22-14 22 7 22-86 22 41 22 16 22 11 22 37 22 82 22 11 22-5 22 23 22 9 22-104 22-6 22-59 22-53 22-33 22-4 22-18 22-38 22-59 22 104 22-108 22 33 22 7 22 45 22-10 22-3 22 11 22 61 22-37 22-6 22 31 22 31 22 82 22-10 22 12 22 48 22-6 22-24 22-8 22-15 22-25 22-22 22 0 22-17 22-37 22 32 22 16 22-102 22 75 22-116 22 62 22-7 22 43 22 69 22-21 22 16 22 96 22-97 22 85 22 19 22-86 22 58 22 7 22-113 22 129 22-58 22-101 22-85 22 113 22-39 22 102 22-135 22 138 22 117 22-129 22 10 22 55 22-39 22-39 22 138 22-84 22 74 22-115 22 46 22 55 22-35 22 34 22-46 22 34 22-60 22-62 22 114 22-21 22 27 22 46 22-44 22-20 22 10 22 37 22 9 22-102 22 36 22-29 22 89 22-106 22 130 22-100 22 18 22-8 22 25 22-66 22 16 22 14 22-91 22 47 22 38 22 7 22 92 22-66 22-10 22 13 22-38 22-96 22 58 22 31 22 36 22-101 22 52 22-105 22 77 22-65 22 42 22 14 22-7 22-35 22 16 22 59 22 0 22-70 22-10 22-63 22-9 22-8 22 61 22-10 22 39 22-9 22 131 22 113 22 5 22 2 22 100 22-12 22 16 22-37 22-59 22 52 22-98 22-18 22 17 22-8 22 45 22-85 22 31 22 82 22-26 22 34 22-90 22 69 22 54 22-94 22 14 22 41 22 18 22-2 22-14 22 50 22-143 22 73 22-125 22 110 22-28 22-10 22-38 22 15 22 52 22-20 22 18 22 27 22 87 22 54 22 42 22 11 22-43 22 35 22-67 22-88 22 68 22 72 22-141 22 39 22 7 22 3 22 64 22-51 22-21 22 99 22-63 22 12 22 70 22-61 22 117 22-69 22 24 22-7 22-26 22 5 22 100 22-35 22-14 22-46 22-56 22-22 22 10 22 16 22 46 22-111 22 43 22 56 22-37 22-96 22-16 22 110 22-148 22 54 22 14 22 80 22-161 22 102 22 31 22-18 22-18 22 26 22-98 22 13 22 55 22-63 22-4 22-12 22-10 22-32 22 25 22-2 22 30 22-66 22 49 22-106 22 140 22-44 22-74 22 105 22-20 22-3 22-58 22-4 22-35 22-54 22 98 22-48 22-39 22 143 22-90 22 1 22 12 22-38 22-35 22 83 22-126 22 142 22-26 22-9 22 88 22-89 22 31 22 5 22-31 22 58 22-39 22 127 22-40 22-62 22 70 22 59 22 3 22-14 22 32 22-68 22 183 22-70 22 52 22 25 22-31 22 37 22-76 22 66 22-6 22-61 22 33 22 12 22 13 22 58 22-63 22-90 22 111 22 32 22 22 22 17 22-78 22 6 22-78 22 51 22-38 22-2 22-33 22 67 22-67 22 19 22 67 22-7 22-75 22 30 22 85 22-123 22-7 22-6 22-71 22 83 22 46 22-111 22 14 22-29 22-11 22 16 22 25 22-26 22 4 22 15 22-30 22 14 22-8 22 54 22-39 22 42 22-5 22-116 22 114 22-71 22 103 22-75 22-55 22 12 22 73 22-73 22 56 22 28 22 11 22 39 22-119 22-14 22-43 22 97 22-2 22 11 22-41 22 7 22 80 22-95 22-4 22 15 22 23 22 80 22-96 22 10 22 17 22-26 22 7 22-21 22 2 22 10 22-13 22-48 22-131 22-13 22-14 22 6 22 34 22-90 22 116 22-42 21 14 22-22 21 20 22-97 21 73 21-51 21-12 20 100 21 89 20 15 20 70 20-106 20 33 20-167 20 170 19 108 19-41 19 93 19-425 19-180 19 37 19 197 18 59 18-61 19-41 18-160 17-15 18-26 18 181 17-66 18-181 17-2 17-42 17-126 17-1 17 95 16-34 17 174 16 95 16-45 16 8 16-40 16 56 16-65 15 70 16-155 15 64 16-266 15-111 15 39 15 85 15 42 15 72 15 83 15-43 15-102 15-145 15-104 15 45 15-49 15-10 15 41 15 126 15-159 15-97 15 113 15-89 15 80 15-13 15-182 15 125 15 64 15-92 15 89 15 32 15 180 15-82 15-37 15 2 15 41 15-54 15-122 15 136 15 56 15 66 15 252 15 157 15 79 15-254 15-124 15-154 15-25 15 67 15 50 15 39 15 39 15-232 15 157 15-84 15-65 15 30 15-41 15-11 15 111 15-91 15-62 15 57 15-106 15-41 15 3 15 67 15-73 15 94 15 27 15 103 15-55 15-2 15 25 15-84 15 1 15 119 15-277 15-43 15 24 15-8 15-18 15 12 15-16 15 104 15-6 15 48 15-65 15-128 15 206 15-86 15 48 15-71 15 17 15 170 15-176 15 27 15 92 15-96 15 101 15-99 15-61 15 47 15 77 15-58 15-42 15-33 15 28 15 25 15 3 15-67 15-73 15 46 15 69 15-115 15 69 15-99 15 83 15-69 15 96 15 5 15-76 15 171 15-72 15 62 15-35 15 19 15-127 15 110 15 88 15-48 15-66 15 56 15-60 15-39 15 20 15 118 15-33 15-39 15 105 15-145 15 54 15-2 15-23 15 61 15-112 15 51 15 125 15-70 15 41 15-69 15 10 15-28 15 113 15-16 15-42 15-19 15 45 15-90 15 32 15 124 15-15 15-93 15-157 15 22 15 21 15 36 15-21 15-42 15 49 15-99 15-17 15 20 15 93 15-31 15-8 15-24 15 93 15-156 15 119 15-65 15 8 15 19 15-76 15 49 15-28 15 11 15 86 15-115 15 14 15 127 15-39 15 7 15-34 15-5 15-103 15 183 15-27 15-85 15 6 15 114 15-85 15 72 15-53 15 3 15-57 15 191 15-38 15-73 15 98 15-25 15-81 15 107 15-10 15-29 15 89 15-204 15 193 15 51 15-100 15 23 15-79 15-20 15 140 15-30 15-8 15-191 15 127 15-101 15 79 15-3 15 78 15-86 15-66 15 46 15-22 15-3 15-130 15 174 15-98 15-7 15-11 15-69 15 122 15-7 15-55 15-36 15 99 15-72 15 29 15-109 15-3 15 92 15-52 15 173 15-83 15 58 15-63 15-58 15 87 15-30 15-108 15 87 15-127 15 161 15 93 15-141 15 34 15 61 15-39 15 44 15-227 15 201 15-208 15 122 15-33 15-14 15-37 15 158 15-106 15 129 15-139 15 61 15-17 15-86 15 177 15-98 15-29 15 17 15-100 15 86 15 93 15-28 15-4 15-58 15 20 15 39 15 2 15 17 15 6 15 14 15-82 15 62 15 16 15 9 15-9 15 124 15-115 15 74 15-157 15 88 15-8 15-79 15 137 15 27 15-107 15-8 15-10 15 47 15-37 15 55 15 54 15-116 15 39 15 89 15 12 15-14 15-81 15 79 15-65 15 101 15-56 15-24 15 88 15 6 15 52 15-122 15 103 15-15 15 119 15-53 15-22 15-22 15 51 15 120 15-92 15-21 15-38 15-21 15 66 15-64 15-55 15-23 15 82 15-24 15-73 15 20 15-19 15-80 15 35 15-22 15 1 15 100 15-101 15 48 15 92 15-102 15 3 15-4 15 53 15-83 15 104 15-19 15-82 15 37 15 18 15-83 15 116 15 95 15-117 15 35 15-3 15 31 15 8 15-23 15-58 15 89 15-95 15 59 15-40 15-77 15 113 15-39 15 20 15-65 15 143 15-109 15 51 15 49 15-29 15-28 15-46 15-12 15-36 15 91 15-51 15-18 15-41 15 95 15-55 15 71 15-74 15 42 15-21 15-70 15 14 15 23 15-125 15 10 15 46 15 26 15-82 15 50 15-27 15-49 15 32 15 108 15-134 15-59 15 51 15 58 15-127 15 165 15-159 15 115 15 58 15-112 15-8 15 25 15-12 15-26 15 41 15-48 15 28 15-30 15 58 15-10 15 16 15-110 12 64"/>
<path transform="translate(160.4,0) scale(0.02692)" stroke="#9467bd" stroke-width="34.55" d="M0 4605l20 78 20 0 20 83 20-122 20 9 20 9 20-37 20-4 20 64 20-8 20-20 20-54 20 1 20 77 20-12 20-84 20-40 20 65 20 24 20-81 20 56 20-49 20-40 20 35 20 20 20-33 20 54 20-24 20 12 20-20 20 8 20-9 20 14 20-14 20 7 20-4 20-42 20 133 20-116 20 72 20 42 20-47 20-13 20-43 20 90 20-56 20 3 20 76 20-23 20-74 20-1 20-14 20 26 20 9 20 14 20-44 20 91 20-28 20-24 20 82 20-126 20 88 20-33 20-97 20 126 20-15 20-92 20 111 20-29 20-42 20 4 20-5 20 12 20-41 20 16 20 20 20 56 20 3 20 53 20-110 20 109 20-114 20-40 20 127 20-15 20-8 20-56 20 74 20-31 20 18 20-11 20-65 20 97 20-43 20-8 20-25 20 92 20-101 20 30 20-19 20 33 20 72 20-44 20-65 20 32 20 2 20-80 20-19 20 94 20-86 20 167 20 2 20-126 20 48 20-37 20 2 20 25 20-33 20 22 20 71 20-71 20 8 20-64 20 134 20-43 20 26 20-6 20-70 20 62 20 43 20-18 20-18 20 83 20-23 20-70 20 35 20 42 20 23 20-10 20 64 20-103 20 30 20 12 20 66 20-21 20-49 20 15 20 30 20-47 20-23 20 65 20-10 20 11 20 8 20-88 20 8 20 4 20 61 20-10 20-36 20 20 20-18 20 41 20-53 20-44 20 16 20 3 20 70 20-40 20 52 20-60 20 52 20 0 20 3 20-62 20 15 20 1 20 64 20-50 19 77 20-126 19 79 20-10 19 20 19 76 19-4 19-58 19-68 18 132 19-11 18-24 19 91 18 10 18-138 19-109 18-72 18-190 18-2 18-136 18-6 18 208 18 71 18-128 18-144 18 66 18-88 18-16 18 8 18-7 18-63 18-64 18-49 18 42 18 66 18-131 18 96 18 32 18 92 18 151 18-114 18 128 18-71 18-52 18 53 18-3 18 263 18-107 18 9 18 80 18-23 18 135 18-36 18 101 18 5 18-106 18-115 18-25 18-97 18 36 18-67 18-2 18 48 18 8 18 42 18-5 18 3 18-56 18 67 18-51 18-35 18 7 18-45 18-112 18 19 18 93 18-1 18 38 18 23 18-64 18 42 18-38 18-36 18 105 18-22 18-21 18-48 18 66 18-29 18-18 18-23 18-22 18 5 18-19 18-169 18 53 18 89 18-4 18 15 18 81 18-81 18 72 18-11 18-68 18 29 18-47 18-9 18 6 18-56 18-152 18 46 18-67 18 144 18-34 18 78 18 61 18 99 18-219 18 142 18-10 18-56 18 3 18-11 18 55 18 122 18-63 18 150 18-12 18-116 18-99 18 5 18-60 18 83 18 147 18 6 18 70 18-1 18-77 18 16 18-108 18-23 18 143 18-133 18 28 18-110 18-10 18-49 18 29 18-26 18 51 18 111 18-71 18 30 18 65 18 111 18-84 18 111 18-57 18 102 18-85 18 162 18-83 18 108 18-82 18-50 18 175 18-31 18-51 18 28 18 67 18-124 18 62 18-57 18 33 18 58 18-53 18-113 18 32 18-179 18-187 18-82 18-22 18 87 18-153 18 65 18 31 18 41 18 53 18 71 18-9 18-61 18 147 18 37 18-171 18-8 18-38 18-64 18 138 18-36 18-6 18-27 18 22 18 122 18 52 18-31 18 94 18-72 18 2 18-41 18-12 18-164 18 24 18 5 18-79 18 8 18-61 18-65 18 55 18-51 18 7 18-30 18 33 18 59 18 102 18 19 18 137 18-15 18-93 18-103 18-28 18 87 18 50 18-59 18 103 18-62 18 12 18-156 18-22 18-29 18 184 18 89 18 141 18 43 18 10 18-68 18-153 18-160 18 16 18 180 18 1 18 46 18 18 18 90 18 10 18-79 18-20 18-54 18 73 18-60 18 194 18-4 18-67 18 45 18 54 18-85 18-10 18-6 18 94 18-14 18-6 18 12 18-47 18 81 18-41 18 136 18-150 18-85 18 32 18-109 18 79 18-131 18-1 18-159 18-50 18 79 18-45 18-32 18-170 19 108 18-2 19 35 19 50 19 74 19 70 19-52 20-131 19 47 20 10 20 38 20-64 20-8 20 29 20-75 21 61 21-40 20-66 21 7 22-13 21 117 21 66 22 134 22 141 22-20 22 55 22 41 22-58 22-53 22 32 22-58 22 17 22-57 22 81 22-66 22 82 22-70 22-67 22 39 22-71 22 151 22-74 22 9 22 27 22 70 22-105 22 118 22-152 22 17 22-38 22 61 22 45 22-17 22 6 22-37 22 47 22-23 22 5 22-32 22 155 22-60 22-39 22 9 22 55 22-16 22-10 22-12 22 27 22 0 22 18 22-28 22-70 22 106 22-77 22-36 22 80 22-88 22 101 22-82 22 68 22 44 22-72 22-71 22 100 22-51 22 58 22-13 22-66 22 20 22-41 22-38 22 96 22-29 22-40 22-105 22 104 22 1 22-38 22-69 22 117 22-9 22-13 22-29 22-59 22 149 22 20 22-76 22-14 22 121 22-67 22-62 22 71 22-36 22 20 22-13 22 17 22 14 22-35 22 78 22-35 22-49 22 67 22-13 22 10 22 3 22-133 22 61 22-66 22 44 22 23 22 11 22-27 22 8 22-45 22 72 22-49 22-17 22 25 22-4 22-38 22-5 22 24 22-6 22 25 22-45 22 31 22 64 22-51 22-38 22 17 22 52 22-67 22 8 22 2 22-37 22 82 22-39 22 36 22-53 22-7 22 29 22-11 22 67 22-62 22 78 22-143 22 43 22 115 22 49 22-170 22 93 22-60 22 79 22-59 22 31 22-53 22 40 22-78 22 96 22-87 22 56 22-23 22 90 22 7 22-120 22 98 22-27 22 10 22 36 22-36 22 80 22 2 22-80 22 85 22-62 22 7 22-33 22 50 22 101 22-47 22-6 22-67 22 36 22 32 22-43 22 30 22-43 22 14 22-45 22 30 22-39 22 30 22-44 22 24 22-48 22 5 22 2 22 28 22 12 22-15 22 137 22-134 22 172 22-80 22 4 22-48 22 20 22 9 22-7 22-40 22-62 22 82 22 103 22-73 22-38 22-126 22 172 22-16 22-39 22 11 22 72 22-97 22 99 22-44 22-67 22 114 22-41 22-85 22 84 22 35 22-19 22-60 22 105 22-40 22 37 22-12 22-104 22 60 22 17 22-36 22 50 22 22 22-100 22 13 22 75 22-66 22-31 22 43 22 0 22 76 22-46 22 76 22-128 22 57 22-63 22 91 22-70 22 107 22-50 22-40 22 10 22 19 22 69 22-127 22 30 22-20 22 2 22 66 22-32 22-96 22 151 22-53 22 41 22-100 22 67 22 52 22-19 22 35 22 37 22 18 22-86 22 17 22-56 22 42 22-46 22-68 22 128 22 1 22-96 22-60 22 140 22 35 22-61 22 4 22-49 22 77 22-35 22 1 22 56 22 0 22-88 22-3 22 58 22-102 22 28 22 21 22-6 22 12 22-16 22-6 22 35 22 93 22-82 22 30 22 16 22-77 22 104 22-114 22 65 22 26 22-15 22-140 22 38 22 78 22-59 22-32 22 115 22-27 22-54 22 22 22 32 22-88 22 48 22-14 22-71 22 82 22-94 22 102 22 21 22-13 22-32 22 9 22 12 22 82 22-17 22-36 22-44 22-31 22 168 22-99 22 14 22-15 22-14 22 47 22 20 22-102 22 11 22 51 22-13 22 26 22 31 22-90 22 57 22 19 22-23 22-99 22 52 22 8 22 6 22-34 22 5 22 88 22-47 22 17 22-38 22 11 22 85 22-139 22 38 22 87 22-127 22 44 22-15 22 18 22-6 22 29 22 50 22-47 22-35 22 5 22-29 22 30 22 92 22-132 22 65 22 22 22-47 22 43 22-77 22 54 22-128 22 94 22 11 22 7 22 68 22-54 22-3 22-17 22 85 22-96 22-53 22 77 22-14 22-19 22 56 22-14 22-62 22 28 22 56 22 19 22-184 22 75 22 83 22-81 22-29 22 19 22 82 22-175 21 39 22 23 21-57 22 30 21-9 21-76 21 135 20-163 21 47 20-5 20 5 20-23 20 20 20 56 20 114 19-26 19 110 19 69 19-52 19 35 19-60 19 214 18-184 18-10 19 32 18-94 17 138 18-100 18 25 17-44 18 43 17-75 17-73 17 16 17-34 17 53 16-91 17 109 16-23 16-12 16 74 16-37 16 60 16-75 15 67 16 2 15 72 16-91 15-43 15 31 15 80 15-32 15-28 15-24 15 84 15-221 15 117 15-26 15 24 15-38 15-139 15 175 15-40 15 21 15-43 15-73 15 118 15 23 15 123 15-59 15-3 15 46 15 1 15-87 15 7 15 31 15 34 15 37 15-217 15 200 15-152 15 44 15 25 15-104 15 117 15-119 15 160 15-88 15-39 15 157 15-188 15 80 15 189 15-243 15-43 15 131 15-13 15-46 15 137 15-142 15-60 15 87 15-118 15-80 15 262 15-19 15-81 15-89 15 19 15 88 15 17 15-24 15-157 15 177 15-22 15-99 15 83 15 51 15-159 15 82 15 78 15-10 15-78 15 96 15-31 15-33 15 3 15 200 15-81 15 0 15-20 15-43 15-25 15 112 15 46 15-87 15 56 15-157 15 95 15 23 15-63 15 115 15-20 15-9 15-55 15-43 15 37 15 6 15 71 15-37 15 45 15-92 15 127 15-34 15-18 15-34 15 108 15-31 15 45 15 40 15-164 15 47 15 137 15-38 15-107 15 78 15 29 15-160 15 117 15-9 15-66 15 86 15-53 15-11 15-42 15 100 15-127 15 49 15-99 15 112 15 56 15 4 15 44 15-73 15 8 15-62 15 59 15 68 15-125 15 104 15-44 15-78 15 16 15 142 15-42 15-102 15 23 15 29 15-26 15 208 15-130 15 77 15-57 15-19 15-60 15-50 15 25 15 33 15 42 15-114 15 68 15 139 15-120 15-41 15 100 15-84 15-91 15 120 15-15 15-3 15 63 15-37 15 35 15-51 15 34 15-122 15 74 15-66 15 146 15-86 15-41 15-8 15 91 15-36 15-15 15 32 15 5 15-66 15 119 15 43 15-91 15-54 15 178 15-252 15 87 15-32 15 99 15-53 15-128 15-1 15 87 15 64 15-11 15-97 15 142 15 17 15-54 15-70 15 139 15-98 15 1 15 18 15 21 15-73 15 25 15 140 15-215 15 78 15 9 15 45 15-7 15 153 15-160 15-59 15-3 15 88 15 115 15-87 15-59 15-112 15 194 15-128 15-55 15-18 15 35 15 172 15-250 15 18 15-46 15 85 15-52 15-156 15 91 15-24 15 30 15-108 15 155 15-59 15-48 15 51 15-45 15 50 15-52 15 134 15 2 15-28 15 145 15-221 15 163 15-141 15-20 15 31 15 58 15 59 15 106 15-186 15 57 15-135 15 142 15-63 15 73 15-57 15 56 15-11 15 118 15-83 15-40 15-101 15 68 15 103 15-197 15 84 15-55 15 140 15 164 15-177 15 17 15-92 15 125 15-47 15 32 15-107 15 73 15-162 15 37 15-7 15 71 15-35 15-47 15 117 15-149 15 89 15-97 15-72 15 45 15 181 15-163 15 104 15 5 15-16 15 62 15-102 15 64 15-129 15 60 15 208 15-108 15 8 15-17 15 3 15-55 15 30 15 70 15-101 15-28 15 67 15-78 15 56 15 73 15-8 15-24 15-33 15 29 15-52 15-9 15 154 15 14 15-69 15-35 15-28 15 22 15 2 15 101 15-96 15 65 15-79 15-39 15 103 15-35 15-193 15 217 15-23 15 35 15 18 15-174 15 110 15-9 15 11 15 141 15-244 15 92 15-33 15-97 15 107 15-17 15-1 15-75 15 184 15-52 15 113 15-151 15-41 15 76 15-167 15 72 15-66 15 125 15-113 15 163 15-63 15 21 15 39 15-143 15 25 15 140 15-94 15 42 15-3 15-30 15 78 15-46 15-7 15 65 15-10 15-98 15 55 15-165 15 13 15 196 15-75 15 159 15-97 15 15 15-11 15 92 15-170 15 6 15 63 15-53 15-73 15-50 15 201 15-205 15 228 15-64 15-31 15-136 15 64 15 0 15-70 15 91 15 46 15-135 15 116 15 71 15 31 15-133 15-120 15 77 15 46 15-82 15 186 15-133 15 69 15-130 15 157 15-112 15 45 15 15 15-44 15 60 15-106 15 117 12 138"/>
<path transform="translate(169.2,0) scale(0.02692)" stroke="#8c564b" stroke-width="31.95" d="M0 8524l20 135 20 60 20-194 20-173 20-55 20-16 20-17 20-16 20-16 20-17 20-16 20-16 20-17 20-16 20-16 20-17 20-16 20-17 20-16 20-16 20-13 20 499 20 345 20 321 20 115 20 47 20 120 20 269 20 183 20 181 20 6 20 16 20 52 20 18 20-28 20 19 20-39 20-58 20 13 20-4 20-20 20-62 20 43 20 29 20-9 20-67 20-148 20 184 20-204 20-85 20-128 20-13 20-220 20-33 20-34 20-122 20 71 20 37 20 78 20-22 20 15 20 9 20-42 20-5 20 4 20 53 20-140 20 64 20-36 20-69 20-57 20-43 20 139 20-129 20 0 20 75 20-101 20-74 20-66 20 31 20 15 20-64 20-19 20-99 20 81 20 7 20-140 20-19 20-80 20-13 20-8 20-69 20-96 20-7 20 23 20-109 20 69 20-87 20 10 20 93 20 20 20-26 20 31 20 34 20 40 20 50 20 13 20-117 20 204 20-45 20 140 20-85 20-28 20 0 20 14 20-3 20-140 20 56 20-43 20-187 20-64 20-6 20-54 20 9 20-23 20 56 20 148 20 108 20 142 20-191 20-328 20 354 20 235 20-102 20-94 20-181 20 62 20-1 20-54 20 3 20 40 20 157 20-117 20 29 20 54 20 12 20 29 20 118 20 49 20 11 20-122 20 15 20 4 20 34 20-50 20-10 20 23 20 61 20-108 20 26 20 137 20-120 19 132 20-29 20-90 19 28 19 64 19-53 20-121 19 35 18-190 19-45 19 450 18-446 19-507 18-524 19-365 18 387 18 247 18 172 18 136 18 319 18 255 18 151 18-512 18-242 18-207 18-511 18 197 18 352 18-159 18-386 18-246 18-156 18-159 18-142 18-135 18 32 18-3 18-66 18 184 18 91 18 300 18 106 18 347 18 214 18 87 18-581 18-213 18-266 18-67 18 1059 18 713 18-180 18-301 18-219 18-239 18 187 18 202 18-173 18-90 18-285 18-5 18-160 18 84 18 101 18 42 18 143 18 70 18 9 18-127 18-145 18-40 18-48 18-99 18 112 18 108 18 431 18 477 18 399 18-705 18-446 18-240 18-41 18-16 18-24 18 125 18 57 18-23 18-175 18-6 18 75 18 61 18 453 18 364 18-492 18-330 18-81 18 103 18-68 18 116 18 69 18 21 18 46 18 57 18 35 18 62 18 13 18-94 18-168 18 39 18 60 18-183 18-62 18 579 18 356 18 211 18 149 18 206 18-13 18-139 18 75 18-193 18 7 18-213 18-161 18-668 18-86 18 19 18 481 18 275 18 137 18 250 18 194 18-368 18-484 18-248 18-81 18 173 18-167 18-1 18 153 18-4 18 7 18 41 18 32 18-35 18 37 18 75 18 2 18 107 18-29 18-6 18 18 18 41 18-220 18-85 18-152 18 74 18-49 18 191 18 216 18 353 18 187 18 192 18 63 18 88 18 65 18-25 18 80 18 5 18-113 18 14 18-46 18-9 18-43 18 9 18-51 18-79 18-133 18-261 18-1008 18-1014 18 235 18 142 18 99 18-59 18-6 18-81 18 91 18 6 18-143 18-9 18-7 18 13 18-140 18 11 18 24 18-34 18-20 18-134 18 84 18 79 18 14 18-79 18 53 18 157 18-3 18-57 18-72 18 9 18-21 18-59 18 2 18-2 18-12 18-39 18-26 18-64 18-6 18 33 18-82 18 140 18-90 18 131 18-21 18-59 18-9 18 81 18-55 18 55 18-34 18-2 18 80 18-75 18 81 18 20 18 77 18-41 18-40 18-47 18-31 18-51 18-97 18 1092 18 385 18-132 18-112 18-18 18 3 18 186 18 174 18 201 18 496 18-134 18-75 18 316 18 523 18-758 18-444 18-67 18 142 18-132 18-502 18 221 18 241 18 99 18 110 18-501 18-752 18 128 18 123 18-34 18-145 18-87 18-114 18-59 18-23 18 131 18 4 18 857 18-589 18-591 18 123 18 9 18 200 18 580 18 97 18 65 18 82 19-91 18-116 19-176 19-59 18-344 19 129 20 107 19-101 19-272 20-11 20-101 20-75 20 94 20 242 20 130 21 523 20-96 21-215 21-310 21-70 21-119 21-194 22-129 21-33 22 472 22 667 22 172 22 198 22 85 22 122 22 7 22 45 22 209 22 219 22 244 22 232 22 122 22-121 22 155 22 327 22 263 22-136 22 76 22-122 22-21 22-77 22 66 22 33 22 3 22-42 22 7 22-140 22 28 22 47 22-80 22 28 22-40 22 28 22 166 22 67 22 88 22 122 22-2527 22-315 22-70 22-74 22-76 22 16 22-53 22-126 22 118 22-10 22 120 22 64 22-90 22-67 22-48 22-76 22 49 22-34 22 66 22-101 22 57 22-95 22 86 22-71 22 37 22 143 22 162 22 104 22 248 22 247 22-175 22-274 22-101 22-293 22-178 22 104 22-58 22 136 22 179 22-139 22 35 22-86 22 380 22 530 22 329 22 330 22-290 22-385 22 171 22 383 22 491 22 410 22-1051 22-32 22 72 22 75 22 22 22 175 22-72 22-56 22 21 22-35 22-110 22-17 22 45 22-152 22 36 22-10 22 72 22-19 22-18 22 27 22-104 22-40 22 26 22-92 22 6 22 16 22 0 22 9 22 1 22-53 22-46 22-65 22 61 22-41 22 93 22-111 22 1 22 48 22-9 22 54 22-16 22 7 22-36 22 10 22-152 22-3 22 21 22-2 22-82 22 31 22 42 22-28 22-6 22 7 22 5 22 90 22-54 22 19 22-132 22-3 22 5 22-181 22 17 22 55 22-79 22 45 22-46 22 29 22 78 22-26 22-37 22 48 22 108 22-57 22-236 22-161 22 152 22 256 22 78 22-166 22 114 22-44 22 62 22-96 22 92 22-40 22 16 22-52 22-18 22-2 22-63 22-17 22-35 22 85 22-16 22 155 22-83 22 11 22-16 22-73 22 109 22-275 22 12 22 116 22 37 22 30 22 29 22-80 22-1 22-25 22 4 22-48 22 145 22 1 22-71 22 118 22-3 22-5 22 70 22 34 22 62 22 102 22-87 22 16 22 41 22 59 22-9 22-7 22 62 22 21 22 39 22-51 22 87 22-17 22-62 22 174 22-26 22-46 22 78 22-35 22 116 22 0 22-78 22 104 22-34 22 24 22-60 22 118 22-36 22-16 22-1 22 66 22-11 22 80 22-33 22-37 22-53 22-84 22 26 22-29 22-70 22-65 22 86 22-20 22-133 22 3 22-43 22-83 22 106 22 7 22-46 22 100 22-29 22 32 22 1 22 14 22 78 22-14 22 34 22 60 22-48 22 74 22 50 22 30 22-48 22 30 22-67 22-25 22 62 22 11 22-12 22-27 22 105 22-12 22 96 22 120 22-133 22 48 22 61 22-1 22 13 22-50 22 101 22-12 22 37 22 37 22-24 22 21 22 65 22-104 22 248 22-124 22 23 22-53 22-98 22-44 22-19 22 121 22-152 22 133 22-58 22-18 22 88 22 38 22-7 22 69 22 87 22-54 22 43 22 66 22 52 22 53 22-86 22-63 22-19 22 48 22-127 22 15 22 23 22 7 22 158 22 23 22-115 22-20 22-4 22 22 22-162 22 67 22-80 22 91 22-19 22 177 22-123 22 72 22 41 22-33 22-137 22 149 22 51 22-127 22 89 22 16 22-21 22 80 22 72 22 36 22 72 22 41 22-59 22 3 22-30 22-9 22-47 22-42 22 45 22-34 22-48 22-69 22 34 22 39 22-162 22 67 22-74 22 58 22-14 22 138 22-104 22 101 22-80 22 42 22-161 22 97 22-2 22-5 22-14 22-74 22 168 22-42 22 3 22 36 22 65 22 43 22-68 22 20 22 55 22-38 22-82 22-38 22 121 22-147 22-2 22-78 22 11 22-11 22-20 22 14 22 20 22 72 22 0 22-34 22 97 22 33 22-47 22 66 22-77 22 87 22 21 22-20 22 134 22 18 22 12 22 23 22 90 22-93 22 60 22-4 21-48 22-120 21-86 21-145 21-61 21 125 20 57 21 35 20 42 20-74 20 6 20-242 20-142 19-129 20-168 19-141 19-296 19 573 19 416 19 396 18 611 19-177 18-324 18-302 18-153 18-555 17-503 18-474 17-188 18-301 17-89 17-78 17-11 17-153 16 41 17 127 16-1 17 125 16 157 16 187 16 43 16 115 15 225 16-89 15 311 16 221 15 1 15-334 15-79 15-163 15-18 15-82 15 32 15 104 15-31 15 66 15-41 15 143 15 51 15 201 15-117 15 58 15-182 15-84 15-43 15-79 15-163 15-25 15-84 15 20 15-2 15 63 15 7 15 10 15 39 15 39 15-86 15-72 15 131 15-17 15-177 15 46 15 71 15-126 15 112 15-202 15 14 15 26 15-124 15-12 15-66 15 174 15-39 15 132 15-52 15 17 15 29 15 73 15 67 15-229 15-19 15 82 15-50 15-75 15 137 15-128 15 98 15 115 15 122 15 158 15-216 15-118 15-91 15-61 15 169 15 47 15 67 15 190 15 61 15 41 15-100 15 7 15-4 15-170 15 17 15-73 15-159 15-7 15 55 15-87 15 100 15 48 15 37 15 114 15 224 15-88 15 67 15 21 15 24 15 40 15 40 15-32 15 61 15 44 15 90 15 69 15 85 15 149 15-55 15 102 15-9 15 72 15-51 15-187 15 178 15-33 15 32 15 84 15 103 15 29 15 56 15-1 15 2 15-58 15-139 15 22 15 56 15 43 15 89 15 119 15-13 15 20 15-79 15-39 15-103 15 31 15 23 15-50 15-79 15-149 15-75 15 24 15-40 15-111 15-23 15-17 15-41 15-121 15-108 15-62 15-18 15 70 15-52 15 206 15-67 15-70 15 50 15-11 15-186 15 59 15-37 15-95 15 38 15 80 15-76 15 5 15-66 15-26 15 148 15-103 15-174 15 30 15 7 15 40 15-55 15 62 15-30 15 8 15 39 15 44 15 14 15-37 15 0 15-49 15 23 15-2 15 60 15-22 15 12 15 28 15 10 15-161 15 94 15-43 15 46 15 63 15-104 15 60 15 44 15 71 15-46 15-24 15-3 15 63 15-10 15-11 15-60 15 50 15-65 15 92 15-204 15 50 15 49 15 34 15-47 15 57 15 37 15 8 15 12 15 53 15-55 15 102 15-122 15-10 15 59 15-140 15 108 15-89 15-57 15 29 15 40 15-41 15 89 15 37 15 28 15 19 15 82 15-70 15 9 15-26 15 6 15-15 15-16 15-16 15-104 15-97 15 13 15-49 15-51 15 31 15-8 15-87 15-72 15-136 15 3 15-73 15 153 15 65 15 163 15-66 15 113 15-90 15 35 15-84 15-18 15 31 15-15 15-30 15-40 15-30 15-57 15-37 15 139 15-69 15 20 15 36 15 105 15-58 15 49 15 93 15-8 15 33 15 73 15-116 15-44 15 18 15-84 15-133 15 56 15-22 15 18 15-99 15-38 15-100 15 60 15 24 15 6 15-103 15 25 15 100 15-173 15 219 15 8 15-61 15 79 15 50 15 35 15-38 15 4 15-44 15 12 15-154 15 61 15-122 15-85 15 144 15-56 15-39 15-37 15 13 15 38 15-97 15 35 15-56 15 103 15 43 15 6 15-4 15 62 9 83"/>
<path transform="translate(160.4,0) scale(0.02692)" stroke="#e377c2" stroke-width="31.58" d="M0 7538l20-91 20 111 20-4 20 62 20-55 20-152 20-37 20-135 20 87 20 71 20 69 20-136 20 98 20-68 20 93 20 57 20-140 20 173 20 70 20 99 20-181 20 35 20 147 20-137 20-88 20 114 20-178 20-99 20 296 20-161 20-99 20 258 20 22 20-24 20 9 20 47 20 206 20-31 20-48 20-174 20-280 20 8 20-75 20-278 20 121 20 142 20-47 20 60 20 2 20-73 20 17 20-49 20-41 20-187 20-46 20 199 20-43 20 33 20 110 20 33 20 28 20 161 20-72 20-76 20 59 20 24 20-17 20-123 20-158 20 234 20-46 20-62 20-117 20 109 20-135 20 89 20-131 20 62 20-6 20-128 20 162 20-49 20-130 20 0 20 53 20 217 20-256 20 37 20 64 20 147 20-266 20-138 20 56 20-130 20 121 20-131 20 18 20-14 20-54 20 70 20 6 20 22 20-69 20-111 20-179 20 151 20-66 20 264 20-94 20 73 20 157 20-226 20-178 20 7 20 34 20-42 20-95 20-8 20-79 20 40 20-88 20 54 20 140 20 76 20 10 20-30 20 150 20-126 20 246 20-83 20 89 20-54 20-42 20-24 20 47 20-82 20-70 20-197 20 142 20-95 20-31 20 164 20-9 20 198 20-114 20-53 20 195 20-40 20 41 20 119 20 151 20-4 20 106 20 2 20-225 20 283 20 41 20-53 20-116 20-107 20 71 20-38 20-71 20-217 20-22 20 139 20 18 20-3 20 123 20 78 20 42 20 363 20 26 20 94 20 368 20-8 20-74 20-33 20-200 19-21 20-72 19-69 20-76 19-69 19-51 19-103 19 182 19 126 18-43 19-147 18 221 19 245 18-175 18-85 19-324 18-46 18-119 18 40 18 266 18 494 18 415 18 274 18-222 18-309 18-688 18-95 18-57 18-171 18-206 18 71 18 115 18 54 18-58 18 93 18 3 18 107 18-11 18 295 18 212 18 479 18 401 18-1154 18 243 18-30 18 112 18-304 18-71 18-376 18-260 18-23 18 10 18 906 18 661 18 62 18 181 18-142 18 117 18 341 18 2 18 192 18-119 18-210 18-219 18-26 18 3 18-154 18 84 18 308 18 244 18-242 18-183 18 10 18-171 18-140 18 192 18 300 18 55 18 387 18 33 18 119 18-130 18 136 18 171 18-173 18 89 18 91 18-45 18 82 18-61 18-1087 18-670 18-469 18-26 18 242 18-335 18-191 18-190 18-65 18 77 18 25 18-144 18-24 18-99 18 165 18-154 18-229 18 142 18-52 18 36 18 38 18-37 18 61 18 129 18 43 18-9 18 148 18 29 18-135 18-58 18-6 18 126 18 499 18 438 18 423 18 273 18 407 18 283 18-347 18-566 18-198 18-550 18-513 18-171 18 50 18 59 18 6 18 29 18 82 18 20 18-180 18 19 18-56 18-8 18-84 18-31 18-32 18-29 18 13 18-54 18-82 18 182 18 144 18 382 18-173 18-49 18-315 18-263 18-225 18-247 18-371 18 79 18 38 18 88 18 174 18-103 18 60 18 4 18 146 18-95 18 126 18 36 18-10 18-84 18 42 18-55 18 141 18 110 18 1228 18-90 18-180 18-237 18-210 18-35 18 207 18-122 18-20 18 155 18 3 18 123 18 12 18 121 18 252 18 132 18-112 18-174 18 84 18-486 18-190 18 193 18-5 18 44 18-163 18-38 18-96 18-108 18 90 18-164 18-82 18 67 18-167 18-151 18 75 18 1 18-117 18 128 18-11 18-66 18 7 18 230 18 1 18 44 18 10 18 83 18 99 18-68 18 256 18-54 18 67 18 76 18 117 18 201 18-51 18 3 18-53 18-103 18 336 18-107 18 333 18-225 18-133 18-269 18 87 18 170 18 263 18-99 18 1 18-59 18 184 18 262 18 181 18 221 18-8 18-323 18-165 18-295 18-84 18 233 18 62 18-48 18 12 18-110 18 187 18 180 18-283 18-311 18-9 18-31 18 72 18 201 18-337 18-120 18-129 18 383 18 218 18 363 18-133 18-206 18-78 18-487 18 34 18 91 18 53 18 241 18 158 18 325 18-73 18 25 19-267 18-38 19-115 19-50 19 66 19 464 19 531 20-220 19 159 20 244 20 328 20-245 20-78 20 343 20 174 21-363 21-552 20-497 21-198 22-126 21-123 21-64 22 523 22 372 22-370 22-226 22 28 22 240 22 276 22-77 22-147 22 73 22 66 22-153 22-198 22-48 22 166 22 279 22 198 22 83 22 60 22 25 22-13 22 60 22-141 22 103 22-64 22-124 22-36 22 12 22 103 22-42 22 22 22-36 22-71 22-92 22-88 22-44 22-20 22-132 22 38 22 11 22 122 22-10 22-24 22-9 22-113 22 4 22-121 22-40 22 45 22 0 22 43 22-51 22-51 22-109 22 12 22 17 22 129 22-58 22 6 22-82 22-125 22-51 22 42 22-184 22 43 22 54 22 31 22 108 22-125 22-344 22-186 22 98 22 79 22 180 22 1 22-160 22-117 22 27 22 188 22 120 22 101 22-35 22 135 22 187 22 49 22 8 22-93 22-78 22-44 22 24 22-23 22-32 22-85 22-74 22 200 22 132 22 95 22-102 22-102 22-76 22 115 22-101 22-73 22 89 22-196 22-12 22 45 22-57 22 61 22 60 22-58 22 154 22-48 22 243 22-114 22 123 22 27 22 64 22 15 22 156 22 24 22 66 22 33 22 102 22 59 22-182 22-32 22-216 22-160 22-167 22-280 22-74 22-124 22 105 22-7 22 7 22 160 22-67 22-42 22-115 22 7 22 253 22 16 22 42 22 119 22 84 22 106 22 50 22 47 22-87 22-50 22 63 22-93 22-43 22-100 22 101 22-106 22 88 22-115 22 148 22-38 22-60 22 140 22 14 22 184 22-35 22 43 22 100 22 34 22 131 22 26 22 99 22 60 22-74 22 125 22-15 22 13 22 141 22 192 22 38 22-119 12-94"/>
<path transform="translate(160.4,0) scale(0.02692)" stroke="#7f7f7f" stroke-width="34.18" d="M0 5082l20 67 20-7 20 9 20 89 20-105 20 75 20-84 20 34 20-81 20 57 20-9 20 55 20-80 20 42 20-36 20-6 20 4 20 51 20 81 20-32 20-93 20-6 20-23 20 73 20 5 20-105 20-13 20 25 20 10 20 79 20-40 20-58 20 122 20-6 20-9 20 14 20 75 20-57 20 8 20-7 20 52 20 34 20 101 20-75 20 133 20-69 20 16 20 80 20 78 20 49 20-30 20-58 20-20 20 45 20-11 20-153 20 117 20 71 20-85 20 76 20 70 20-122 20 46 20-38 20-82 20 82 20 46 20-118 20 181 20-45 20-122 20-4 20 87 20 23 20-48 20 2 20 9 20 31 20 41 20-26 20-14 20 2 20 13 20-24 20 79 20-131 20-25 20 92 20 34 20-85 20-12 20 30 20-57 20 70 20 24 20-127 20 92 20-5 20 87 20-101 20-5 20-46 20-51 20 7 20 47 20-110 20 39 20-2 20 36 20-1 20 77 20 14 20-34 20 9 20-43 20 168 20-133 20 11 20-94 20 78 20-3 20-30 20-21 20 114 20-36 20-92 20 14 20 13 20-75 20 151 20-74 20 33 20-32 20 53 20-43 20-106 20 98 20 23 20-62 20 50 20-68 20 162 20 31 20 66 20-34 20 68 20-93 20-2 20-40 20-3 20-11 20-8 20 40 20-155 20 81 20-114 20 43 20 88 20-55 20 26 20 34 20 27 20 0 20 52 20 30 20-38 20 6 20 28 20-43 20 44 20-39 20 22 20-53 20 141 20-181 20 92 20-92 20 77 20-32 19-43 20 32 19-5 20-31 19-137 19 124 19-146 19-3 19 158 18-35 19 226 18-41 19-39 18 27 18-42 19-121 18 55 18-127 18-80 18-69 18-192 18 191 18 54 18 327 18 77 18 154 18 186 18 8 18 64 18 116 18 97 18-17 18 104 18-171 18 62 18-283 18 39 18 191 18 43 18-39 18-84 18 43 18-116 18-195 18-81 18-178 18-138 18 87 18 58 18-137 18-71 18-30 18-118 18-230 18-47 18 413 18 33 18-19 18-26 18 91 18-32 18 23 18-140 18 46 18-194 18 98 18 49 18 114 18 118 18-52 18-30 18-95 18 34 18-121 18 3 18-44 18 366 18 324 18 127 18 186 18-38 18-7 18-40 18-36 18 131 18-55 18 35 18-242 18 14 18-36 18-345 18 51 18 116 18 73 18 30 18 166 18-95 18-46 18 23 18 3 18 0 18 28 18 63 18-97 18-155 18-10 18 130 18 40 18-17 18 138 18 53 18-173 18 190 18 57 18-107 18 129 18-36 18-31 18-95 18 99 18-113 18 126 18-61 18 5 18 4 18-228 18-211 18-269 18-114 18-100 18 81 18 113 18 22 18 86 18-75 18 5 18 14 18-23 18-1 18 13 18-13 18 71 18-36 18-66 18-52 18-18 18 26 18 15 18-78 18 1 18 56 18-95 18-13 18 70 18 91 18-125 18-104 18-14 18-148 18 307 18 99 18 91 18-23 18 1 18-50 18 118 18-54 18-113 18 100 18 43 18-146 18 12 18 135 18-68 18 126 18-43 18-22 18 60 18 167 18 39 18-89 18 96 18 65 18-1 18 94 18 65 18 9 18-86 18-41 18-163 18-87 18-4 18 104 18 22 18 48 18-17 18-33 18 59 18-96 18 93 18 58 18 56 18-42 18 22 18-115 18 26 18-120 18 61 18-10 18 88 18-27 18-83 18 7 18 38 18-33 18-56 18-44 18 27 18 69 18 26 18-23 18 61 18 105 18-28 18-75 18-48 18 42 18 97 18 24 18-200 18 95 18 29 18-42 18-34 18 23 18-31 18-103 18 96 18-29 18-67 18-156 18-185 18-148 18-109 18 26 18 96 18 25 18 39 18-73 18-91 18 11 18 179 18 460 18 181 18-519 18-263 18 51 18 169 18-110 18 49 18 95 18 71 18-2 18 63 18-141 18 68 18 71 18 36 18-39 18 107 18-4 18-93 18 154 18-80 18-20 18-113 18-85 18-63 18 169 18 378 18 48 18 44 18-96 18-15 18 87 18 148 18-108 18-38 19 66 18-46 19-110 19 95 19-36 19-87 19 132 20-15 19-50 20 106 20-41 20 1 20 43 20 66 20-11 21-88 21-21 20-54 21-105 22 129 21-173 21 48 22-110 22-11 22-48 22-57 22-197 22-96 22-2 22 163 22 4 22-74 22-174 22-85 22-25 22 49 22 46 22-100 22 17 22-52 22-63 22 23 22-45 22 170 22 47 22 9 22-177 22 126 22-80 22-72 22 114 22-79 22 77 22-103 22 116 22-15 22 28 22 14 22-31 22 22 22-14 22-7 22 135 22-88 22-81 22-2 22 15 22 56 22-63 22 47 22 25 22-91 22 37 22-4 22-36 22 1 22 70 22 49 22-28 22 24 22-26 22-29 22 39 22 3 22 48 22-78 22 26 22-43 22-22 22 29 22 38 22-39 22-43 22 166 22-74 22 14 22 19 22 29 22 63 22-6 22-53 22 76 22-3 22-5 22-103 22-44 22 89 22-42 22 79 22-203 22-38 22 37 22 167 22 3 22 4 22 214 22-26 22-97 22 82 22-76 22 73 22-24 22 65 22-57 22-49 22 0 22-55 22 16 22 45 22-81 22-16 22 55 22-34 22-28 22 15 22 26 22-56 22-8 22 57 22-68 22-35 22 30 22 51 22-180 22 33 22 2 22 42 22 53 22 129 22-195 22-27 22 147 22-71 22 25 22-76 22 145 22-134 22 58 22 100 22 14 22-97 22-37 22 116 22-14 22 11 22-56 22 54 22 33 22 19 22 9 22-72 22-24 22 58 22-22 22 70 22-105 22 29 22-69 22 146 22-167 22 66 22-12 22-16 22 60 22-45 22 18 22 55 22-49 22 47 22 60 22-6 22 15 22-31 22-84 22 138 22-59 22 163 22-11 22-5 22-28 22 16 22-62 22 61 22-13 22-61 22 86 22-63 22-63 22 57 22-129 22 62 22 38 22-7 22-16 22 165 22-142 22 81 22-118 22 160 22-72 22-56 22-42 22 106 22-3 22 0 22 45 22 2 22 16 22-60 22-30 22 67 22-49 22 14 22 82 22-109 22 72 22-82 22 0 22 17 22-14 22 33 22 36 22-114 22 70 22-109 22 17 22 129 22-10 22-87 22 49 22 36 22 20 22-17 22 5 22 55 22-29 22 32 22-22 22 51 22-77 22 70 22 76 22 26 22-72 22 2 22 64 22 115 22-26 22 4 22 67 22-35 22 17 22 35 22-14 22 76 22-11 22-8 22-134 22 79 22-225 22 17 22 30 22 79 22-28 22 60 22-9 22-36 22 50 22 24 22-35 22 35 22-11 22-14 22 52 22-33 22-55 22-14 22 90 22-25 22 42 22-52 22 97 22-110 22-101 22 119 22-80 22 39 22-107 22 88 22-134 22 62 22 68 22-79 22 40 22-28 22-21 22-99 22 34 22-59 22 92 22 4 22 176 22-91 22-13 22 40 22-54 22 130 22-61 22 21 22 44 22-22 22-4 22-50 22 10 22-21 22 26 22 95 22-26 22 53 22-95 22-54 22 79 22-10 22 0 22 56 22-84 22 68 22-49 22 82 22-160 22 36 22 35 22-16 22-60 22 99 22-90 22-34 22 39 22-51 22 26 22 13 22-80 22 82 22-31 22 50 22 33 22-27 22 79 22 3 22-53 22-56 22-25 22-74 22 124 22-65 22-118 22 86 22-115 22 25 22 5 22-18 22 98 22-171 22 111 22 47 22 58 22-36 22-32 22 74 22-75 22 104 22-12 22 35 22 20 22-167 22 93 22 28 22-138 22 138 22-97 22-21 22-23 22 34 22 70 22-86 22 146 22 34 22 54 22-124 22 19 22-11 22 106 22 49 22-51 22-109 22-16 22 183 22-186 22 9 22 37 22 10 22 11 22 6 22-6 22 16 22-85 22 32 22 38 22-31 22 2 22-12 22 60 22-51 22-3 22 24 22-84 22 89 22-112 22 88 22-137 22-92 22 29 22 50 22 29 22-33 22 137 22-51 22-18 21-5 22-20 21-39 22-22 21 117 21-25 21 95 20-33 21 63 20 85 20 28 20-209 20 167 20 35 20-99 19-239 19 0 19-141 19 126 19 99 19 209 19 325 18 156 18 114 19-352 18 8 17-203 18 34 18-49 17-79 18 202 17 321 17-84 17 228 17 364 17-147 16-433 17-95 16 217 16 97 16 142 16-140 16 29 16-99 15 52 16-106 15 31 16 7 15 0 15 130 15-57 15 13 15-149 15 73 15 25 15-6 15-43 15 52 15-12 15-7 15 111 15-62 15-74 15 69 15-149 15-95 15 116 15-87 15-26 15-109 15-69 15-30 15-23 15 94 15-46 15 46 15-6 15 4 15 119 15-34 15-31 15-74 15 153 15-5 15 233 15 12 15-103 15 106 15-24 15-145 15-81 15-77 15-91 15 204 15-179 15 282 15-16 15-179 15-114 15 86 15 21 15 95 15-91 15 9 15-80 15-20 15 49 15-68 15-98 15-77 15 102 15-88 15-91 15 139 15 82 15 11 15 49 15 98 15-93 15 46 15-22 15 45 15-28 15-14 15 9 15 64 15-127 15 66 15-75 15 143 15-70 15 66 15 73 15 6 15-57 15 83 15-41 15 122 15-133 15 150 15-161 15-67 15-5 15-83 15-30 15 130 15 59 15-117 15 57 15 36 15-66 15 43 15-87 15 65 15 29 15 1 15-122 15 15 15-41 15 97 15-98 15 123 15-122 15-21 15 85 15-99 15 35 15 13 15 43 15 28 15-198 15 137 15 62 15-96 15 94 15 55 15-94 15-48 15 2 15-15 15 13 15-38 15 40 15 130 15-107 15 88 15 84 15-57 15 11 15-119 15 81 15 66 15-74 15 74 15 41 15-13 15 72 15-4 15 111 15-67 15-64 15 31 15-69 15-115 15 91 15 28 15-16 15-114 15 108 15 88 15 141 15-35 15-17 15-112 15 69 15 34 15-144 15 66 15-3 15-18 15 36 15-32 15 24 15-162 15 76 15-70 15-18 15-36 15 79 15-131 15 222 15-95 15-44 15 75 15-158 15 62 15 102 15-22 15-102 15 14 15-86 15 118 15 88 15-181 15 46 15 8 15 41 15-79 15 164 15-102 15-15 15 64 15-82 15-10 15 22 15 19 15 17 15-37 15 7 15-18 15 78 15-79 15 91 15-63 15 29 15 7 15 22 15-5 15 87 15-30 15-35 15-55 15 114 15 0 15-5 15-221 15 144 15-38 15-35 15-20 15 59 15-74 15 50 15 0 15 8 15-31 15-20 15 38 15-72 15 22 15-80 15 41 15 65 15-107 15 45 15-66 15 5 15 59 15-3 15-77 15-28 15 170 15-155 15 12 15 74 15-60 15-105 15 50 15-37 15-38 15 99 15-31 15 2 15 62 15-181 15 160 15-58 15-52 15 11 15-142 15 199 15-17 15-19 15 108 15-120 15 68 15 22 15 38 15-72 15-17 15 128 15 41 15-5 15-48 15 53 15 151 15-101 15 88 15-146 15 5 15 46 15 144 15-39 15-189 15-35 15 126 15 29 15 93 15 4 15-42 15 84 15 3 15 46 15-94 15 62 15-185 15 117 15-21 15-54 15-9 15-78 15 116 15-195 15 55 15 21 15 8 15 3 15 106 15-80 15-132 15 53 15-34 15 106 15-45 15 5 15 11 15 14 15-58 15 145 15-159 15 120 15-65 15 144 15-127 15-13 15 14 15 10 15-90 15 145 15 94 15-99 15 76 15-100 15 52 15 25 15 81 15-44 15-27 15 150 15-95 15-47 15 172 15-56 15-49 15 36 15 76 15-15 15-33 15-4 15 7 15 20 15-51 15-4 15 21 15-36 15 5 15-32 15-86 15 18 15 120 15 7 15-153 15-40 15 86 15-14 15-4 15-5 15-99 15 61 15-100 15 28 15 30 15-79 15 42 15-70 15 91 15 60 15-168 15 121 15-30 15-68 15 38 15 44 15-51 15-49 15 42 15 80 15-4 15 25 15 69 15-3 15-5 15-101 15 84 15-218 15 180 15-70 15 43 15-30 15 95 15-68 15 22 15-24 15-31 15 4 15 56 15-58 15 0 15 27 15 38 15-45 15 14 15 13 15-1 15-33 15-6 15 109 15 4 15-56 15 12 15 81 15-46 15-26 15 138 15-75 15 182 15-119 15-100 15 120 15 27 15-106 15 98 15-206 12 85"/>
</g>
<g class="k">
<rect x="125.5" y="60.5" width="775" height="385"/>
<line x1="246.5" y1="445.5" x2="246.5" y2="450.5"/>
<line x1="380.5" y1="445.5" x2="380.5" y2="450.5"/>
<line x1="515.5" y1="445.5" x2="515.5" y2="450.5"/>
<line x1="650.5" y1="445.5" x2="650.5" y2="450.5"/>
<line x1="784.5" y1="445.5" x2="784.5" y2="450.5"/>
<line x1="120.5" y1="445.5" x2="125.5" y2="445.5"/>
<line x1="120.5" y1="381.5" x2="125.5" y2="381.5"/>
<line x1="120.5" y1="317.5" x2="125.5" y2="317.5"/>
<line x1="120.5" y1="253.5" x2="125.5" y2="253.5"/>
<line x1="120.5" y1="188.5" x2="125.5" y2="188.5"/>
<line x1="120.5" y1="124.5" x2="125.5" y2="124.5"/>
<line x1="120.5" y1="60.5" x2="125.5" y2="60.5"/>
</g>
<g class="t n" text-anchor="middle">
<text x="245.5" y="465.5">152500</text>
<text x="379.5" y="465.5">153000</text>
<text x="514.5" y="465.5">153500</text>
<text x="649.5" y="465.5">154000</text>
<text x="783.5" y="465.5">154500</text>
</g>
<g class="t n" text-anchor="end">
<text x="115" y="450">0</text>
<text x="115" y="386">10</text>
<text x="115" y="322">20</text>
<text x="115" y="258">30</text>
<text x="115" y="194">40</text>
<text x="115" y="130">50</text>
<text x="115" y="66">60</text>
</g>
<text class="ti" text-anchor="middle" transform="translate(512.5,51.5) scale(0.996,1.06)">./results/BX_all_1 Galileo E6(BPSK(5)-PD)</text>
<text class="t" text-anchor="middle" x="512.5" y="485.5">Time (s)</text>
<text class="t" text-anchor="middle" transform="translate(87.5,253) rotate(-90)">CNo dB Hz</text>
<rect x="922.5" y="74.5" width="90" height="172" rx="2.8" ry="2.8" fill="#fff" fill-opacity="0.8" stroke="#ccc" stroke-opacity="0.8" stroke-width="1.39"/>
<g class="d">
<line x1="927" y1="86.5" x2="956" y2="86.5" stroke="#1f77b4" stroke-width="0.69"/>
<line x1="927" y1="107.5" x2="956" y2="107.5" stroke="#ff7f0e" stroke-width="0.69"/>
<line x1="927" y1="127.5" x2="956" y2="127.5" stroke="#2ca02c" stroke-width="0.69"/>
<line x1="927" y1="148.5" x2="956" y2="148.5" stroke="#d62728" stroke-width="0.69"/>
<line x1="927" y1="169.5" x2="956" y2="169.5" stroke="#9467bd" stroke-width="0.69"/>
<line x1="927" y1="190.5" x2="956" y2="190.5" stroke="#8c564b" stroke-width="0.69"/>
<line x1="927" y1="211.5" x2="956" y2="211.5" stroke="#e377c2" stroke-width="0.69"/>
<line x1="927" y1="232.5" x2="956" y2="232.5" stroke="#7f7f7f" stroke-width="0.69"/>
</g>
<g class="t n">
<text x="966" y="89.5">3.0</text>
<text x="966" y="110.5">5.0</text>
<text x="966" y="131.5">8.0</text>
<text x="966" y="152.5">13.0</text>
<text x="966" y="173.5">15.0</text>
<text x="966" y="194.5">21.0</text>
<text x="966" y="215.5">27.0</text>
<text x="966" y="236.5">34.0</text>
</g>
</svg>
</body></html>
